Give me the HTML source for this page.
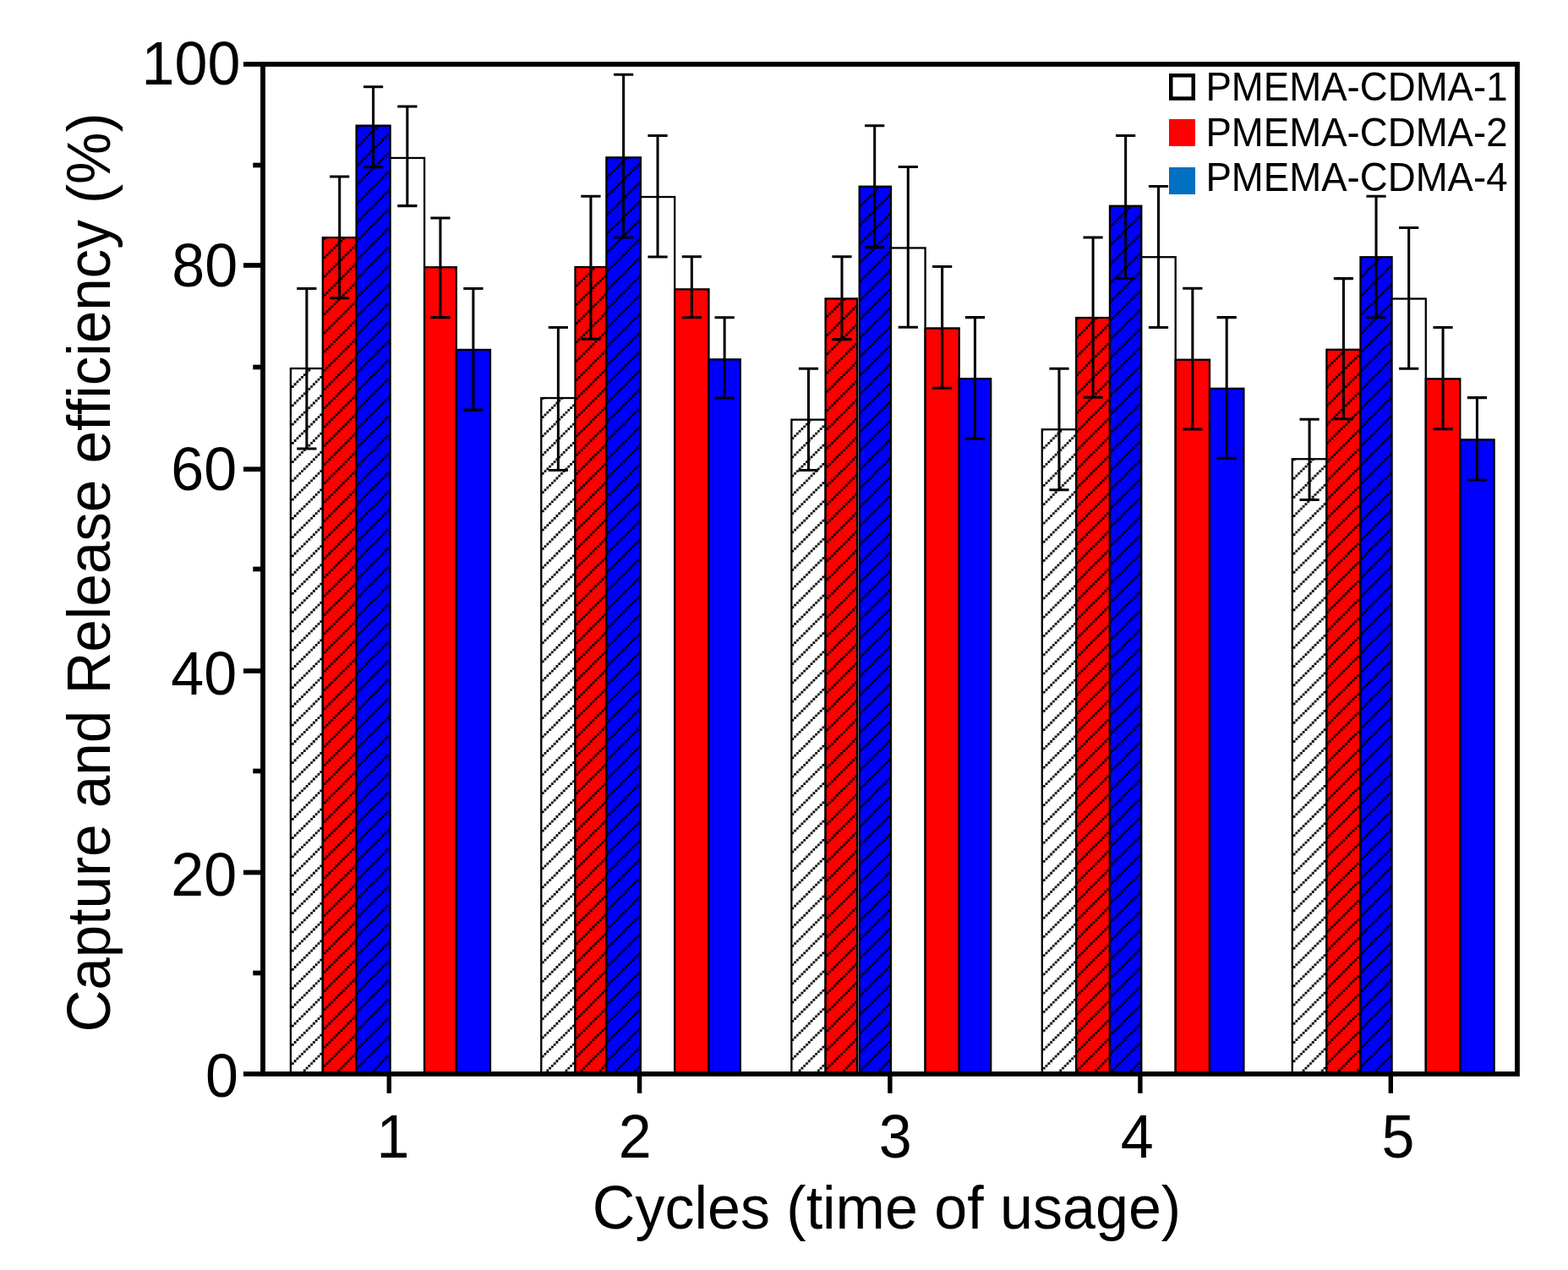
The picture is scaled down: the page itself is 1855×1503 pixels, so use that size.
<!DOCTYPE html><html><head><meta charset="utf-8"><title>Capture and Release efficiency</title>
<style>html,body{margin:0;padding:0;background:#fff;width:1855px;height:1503px;}svg{display:block;}text{font-family:"Liberation Sans",Arial,sans-serif;fill:#000;font-variant-ligatures:none;font-kerning:none;}</style></head><body>
<svg width="1855" height="1503" viewBox="0 0 1855 1503">
<defs>
<pattern id="h00" patternUnits="userSpaceOnUse" x="2.85" y="0" width="89" height="89"><rect width="89" height="89" fill="#ffffff"/><path d="M19.469,0.000h2.7812v2.7812h-2.7812zM41.719,0.000h2.7812v2.7812h-2.7812zM63.969,0.000h2.7812v2.7812h-2.7812zM86.219,0.000h2.7812v2.7812h-2.7812zM16.688,2.781h2.7812v2.7812h-2.7812zM38.938,2.781h2.7812v2.7812h-2.7812zM61.188,2.781h2.7812v2.7812h-2.7812zM83.438,2.781h2.7812v2.7812h-2.7812zM13.906,5.562h2.7812v2.7812h-2.7812zM36.156,5.562h2.7812v2.7812h-2.7812zM58.406,5.562h2.7812v2.7812h-2.7812zM80.656,5.562h2.7812v2.7812h-2.7812zM11.125,8.344h2.7812v2.7812h-2.7812zM33.375,8.344h2.7812v2.7812h-2.7812zM55.625,8.344h2.7812v2.7812h-2.7812zM77.875,8.344h2.7812v2.7812h-2.7812zM8.344,11.125h2.7812v2.7812h-2.7812zM30.594,11.125h2.7812v2.7812h-2.7812zM52.844,11.125h2.7812v2.7812h-2.7812zM75.094,11.125h2.7812v2.7812h-2.7812zM5.562,13.906h2.7812v2.7812h-2.7812zM27.812,13.906h2.7812v2.7812h-2.7812zM50.062,13.906h2.7812v2.7812h-2.7812zM72.312,13.906h2.7812v2.7812h-2.7812zM2.781,16.688h2.7812v2.7812h-2.7812zM25.031,16.688h2.7812v2.7812h-2.7812zM47.281,16.688h2.7812v2.7812h-2.7812zM69.531,16.688h2.7812v2.7812h-2.7812zM0.000,19.469h2.7812v2.7812h-2.7812zM22.250,19.469h2.7812v2.7812h-2.7812zM44.500,19.469h2.7812v2.7812h-2.7812zM66.750,19.469h2.7812v2.7812h-2.7812zM19.469,22.250h2.7812v2.7812h-2.7812zM41.719,22.250h2.7812v2.7812h-2.7812zM63.969,22.250h2.7812v2.7812h-2.7812zM86.219,22.250h2.7812v2.7812h-2.7812zM16.688,25.031h2.7812v2.7812h-2.7812zM38.938,25.031h2.7812v2.7812h-2.7812zM61.188,25.031h2.7812v2.7812h-2.7812zM83.438,25.031h2.7812v2.7812h-2.7812zM13.906,27.812h2.7812v2.7812h-2.7812zM36.156,27.812h2.7812v2.7812h-2.7812zM58.406,27.812h2.7812v2.7812h-2.7812zM80.656,27.812h2.7812v2.7812h-2.7812zM11.125,30.594h2.7812v2.7812h-2.7812zM33.375,30.594h2.7812v2.7812h-2.7812zM55.625,30.594h2.7812v2.7812h-2.7812zM77.875,30.594h2.7812v2.7812h-2.7812zM8.344,33.375h2.7812v2.7812h-2.7812zM30.594,33.375h2.7812v2.7812h-2.7812zM52.844,33.375h2.7812v2.7812h-2.7812zM75.094,33.375h2.7812v2.7812h-2.7812zM5.562,36.156h2.7812v2.7812h-2.7812zM27.812,36.156h2.7812v2.7812h-2.7812zM50.062,36.156h2.7812v2.7812h-2.7812zM72.312,36.156h2.7812v2.7812h-2.7812zM2.781,38.938h2.7812v2.7812h-2.7812zM25.031,38.938h2.7812v2.7812h-2.7812zM47.281,38.938h2.7812v2.7812h-2.7812zM69.531,38.938h2.7812v2.7812h-2.7812zM0.000,41.719h2.7812v2.7812h-2.7812zM22.250,41.719h2.7812v2.7812h-2.7812zM44.500,41.719h2.7812v2.7812h-2.7812zM66.750,41.719h2.7812v2.7812h-2.7812zM19.469,44.500h2.7812v2.7812h-2.7812zM41.719,44.500h2.7812v2.7812h-2.7812zM63.969,44.500h2.7812v2.7812h-2.7812zM86.219,44.500h2.7812v2.7812h-2.7812zM16.688,47.281h2.7812v2.7812h-2.7812zM38.938,47.281h2.7812v2.7812h-2.7812zM61.188,47.281h2.7812v2.7812h-2.7812zM83.438,47.281h2.7812v2.7812h-2.7812zM13.906,50.062h2.7812v2.7812h-2.7812zM36.156,50.062h2.7812v2.7812h-2.7812zM58.406,50.062h2.7812v2.7812h-2.7812zM80.656,50.062h2.7812v2.7812h-2.7812zM11.125,52.844h2.7812v2.7812h-2.7812zM33.375,52.844h2.7812v2.7812h-2.7812zM55.625,52.844h2.7812v2.7812h-2.7812zM77.875,52.844h2.7812v2.7812h-2.7812zM8.344,55.625h2.7812v2.7812h-2.7812zM30.594,55.625h2.7812v2.7812h-2.7812zM52.844,55.625h2.7812v2.7812h-2.7812zM75.094,55.625h2.7812v2.7812h-2.7812zM5.562,58.406h2.7812v2.7812h-2.7812zM27.812,58.406h2.7812v2.7812h-2.7812zM50.062,58.406h2.7812v2.7812h-2.7812zM72.312,58.406h2.7812v2.7812h-2.7812zM2.781,61.188h2.7812v2.7812h-2.7812zM25.031,61.188h2.7812v2.7812h-2.7812zM47.281,61.188h2.7812v2.7812h-2.7812zM69.531,61.188h2.7812v2.7812h-2.7812zM0.000,63.969h2.7812v2.7812h-2.7812zM22.250,63.969h2.7812v2.7812h-2.7812zM44.500,63.969h2.7812v2.7812h-2.7812zM66.750,63.969h2.7812v2.7812h-2.7812zM19.469,66.750h2.7812v2.7812h-2.7812zM41.719,66.750h2.7812v2.7812h-2.7812zM63.969,66.750h2.7812v2.7812h-2.7812zM86.219,66.750h2.7812v2.7812h-2.7812zM16.688,69.531h2.7812v2.7812h-2.7812zM38.938,69.531h2.7812v2.7812h-2.7812zM61.188,69.531h2.7812v2.7812h-2.7812zM83.438,69.531h2.7812v2.7812h-2.7812zM13.906,72.312h2.7812v2.7812h-2.7812zM36.156,72.312h2.7812v2.7812h-2.7812zM58.406,72.312h2.7812v2.7812h-2.7812zM80.656,72.312h2.7812v2.7812h-2.7812zM11.125,75.094h2.7812v2.7812h-2.7812zM33.375,75.094h2.7812v2.7812h-2.7812zM55.625,75.094h2.7812v2.7812h-2.7812zM77.875,75.094h2.7812v2.7812h-2.7812zM8.344,77.875h2.7812v2.7812h-2.7812zM30.594,77.875h2.7812v2.7812h-2.7812zM52.844,77.875h2.7812v2.7812h-2.7812zM75.094,77.875h2.7812v2.7812h-2.7812zM5.562,80.656h2.7812v2.7812h-2.7812zM27.812,80.656h2.7812v2.7812h-2.7812zM50.062,80.656h2.7812v2.7812h-2.7812zM72.312,80.656h2.7812v2.7812h-2.7812zM2.781,83.438h2.7812v2.7812h-2.7812zM25.031,83.438h2.7812v2.7812h-2.7812zM47.281,83.438h2.7812v2.7812h-2.7812zM69.531,83.438h2.7812v2.7812h-2.7812zM0.000,86.219h2.7812v2.7812h-2.7812zM22.250,86.219h2.7812v2.7812h-2.7812zM44.500,86.219h2.7812v2.7812h-2.7812zM66.750,86.219h2.7812v2.7812h-2.7812z" fill="#000"/></pattern>
<pattern id="h01" patternUnits="userSpaceOnUse" x="21.3" y="0" width="89" height="89"><rect width="89" height="89" fill="#ff0000"/><path d="M19.469,0.000h2.7812v2.7812h-2.7812zM41.719,0.000h2.7812v2.7812h-2.7812zM63.969,0.000h2.7812v2.7812h-2.7812zM86.219,0.000h2.7812v2.7812h-2.7812zM16.688,2.781h2.7812v2.7812h-2.7812zM38.938,2.781h2.7812v2.7812h-2.7812zM61.188,2.781h2.7812v2.7812h-2.7812zM83.438,2.781h2.7812v2.7812h-2.7812zM13.906,5.562h2.7812v2.7812h-2.7812zM36.156,5.562h2.7812v2.7812h-2.7812zM58.406,5.562h2.7812v2.7812h-2.7812zM80.656,5.562h2.7812v2.7812h-2.7812zM11.125,8.344h2.7812v2.7812h-2.7812zM33.375,8.344h2.7812v2.7812h-2.7812zM55.625,8.344h2.7812v2.7812h-2.7812zM77.875,8.344h2.7812v2.7812h-2.7812zM8.344,11.125h2.7812v2.7812h-2.7812zM30.594,11.125h2.7812v2.7812h-2.7812zM52.844,11.125h2.7812v2.7812h-2.7812zM75.094,11.125h2.7812v2.7812h-2.7812zM5.562,13.906h2.7812v2.7812h-2.7812zM27.812,13.906h2.7812v2.7812h-2.7812zM50.062,13.906h2.7812v2.7812h-2.7812zM72.312,13.906h2.7812v2.7812h-2.7812zM2.781,16.688h2.7812v2.7812h-2.7812zM25.031,16.688h2.7812v2.7812h-2.7812zM47.281,16.688h2.7812v2.7812h-2.7812zM69.531,16.688h2.7812v2.7812h-2.7812zM0.000,19.469h2.7812v2.7812h-2.7812zM22.250,19.469h2.7812v2.7812h-2.7812zM44.500,19.469h2.7812v2.7812h-2.7812zM66.750,19.469h2.7812v2.7812h-2.7812zM19.469,22.250h2.7812v2.7812h-2.7812zM41.719,22.250h2.7812v2.7812h-2.7812zM63.969,22.250h2.7812v2.7812h-2.7812zM86.219,22.250h2.7812v2.7812h-2.7812zM16.688,25.031h2.7812v2.7812h-2.7812zM38.938,25.031h2.7812v2.7812h-2.7812zM61.188,25.031h2.7812v2.7812h-2.7812zM83.438,25.031h2.7812v2.7812h-2.7812zM13.906,27.812h2.7812v2.7812h-2.7812zM36.156,27.812h2.7812v2.7812h-2.7812zM58.406,27.812h2.7812v2.7812h-2.7812zM80.656,27.812h2.7812v2.7812h-2.7812zM11.125,30.594h2.7812v2.7812h-2.7812zM33.375,30.594h2.7812v2.7812h-2.7812zM55.625,30.594h2.7812v2.7812h-2.7812zM77.875,30.594h2.7812v2.7812h-2.7812zM8.344,33.375h2.7812v2.7812h-2.7812zM30.594,33.375h2.7812v2.7812h-2.7812zM52.844,33.375h2.7812v2.7812h-2.7812zM75.094,33.375h2.7812v2.7812h-2.7812zM5.562,36.156h2.7812v2.7812h-2.7812zM27.812,36.156h2.7812v2.7812h-2.7812zM50.062,36.156h2.7812v2.7812h-2.7812zM72.312,36.156h2.7812v2.7812h-2.7812zM2.781,38.938h2.7812v2.7812h-2.7812zM25.031,38.938h2.7812v2.7812h-2.7812zM47.281,38.938h2.7812v2.7812h-2.7812zM69.531,38.938h2.7812v2.7812h-2.7812zM0.000,41.719h2.7812v2.7812h-2.7812zM22.250,41.719h2.7812v2.7812h-2.7812zM44.500,41.719h2.7812v2.7812h-2.7812zM66.750,41.719h2.7812v2.7812h-2.7812zM19.469,44.500h2.7812v2.7812h-2.7812zM41.719,44.500h2.7812v2.7812h-2.7812zM63.969,44.500h2.7812v2.7812h-2.7812zM86.219,44.500h2.7812v2.7812h-2.7812zM16.688,47.281h2.7812v2.7812h-2.7812zM38.938,47.281h2.7812v2.7812h-2.7812zM61.188,47.281h2.7812v2.7812h-2.7812zM83.438,47.281h2.7812v2.7812h-2.7812zM13.906,50.062h2.7812v2.7812h-2.7812zM36.156,50.062h2.7812v2.7812h-2.7812zM58.406,50.062h2.7812v2.7812h-2.7812zM80.656,50.062h2.7812v2.7812h-2.7812zM11.125,52.844h2.7812v2.7812h-2.7812zM33.375,52.844h2.7812v2.7812h-2.7812zM55.625,52.844h2.7812v2.7812h-2.7812zM77.875,52.844h2.7812v2.7812h-2.7812zM8.344,55.625h2.7812v2.7812h-2.7812zM30.594,55.625h2.7812v2.7812h-2.7812zM52.844,55.625h2.7812v2.7812h-2.7812zM75.094,55.625h2.7812v2.7812h-2.7812zM5.562,58.406h2.7812v2.7812h-2.7812zM27.812,58.406h2.7812v2.7812h-2.7812zM50.062,58.406h2.7812v2.7812h-2.7812zM72.312,58.406h2.7812v2.7812h-2.7812zM2.781,61.188h2.7812v2.7812h-2.7812zM25.031,61.188h2.7812v2.7812h-2.7812zM47.281,61.188h2.7812v2.7812h-2.7812zM69.531,61.188h2.7812v2.7812h-2.7812zM0.000,63.969h2.7812v2.7812h-2.7812zM22.250,63.969h2.7812v2.7812h-2.7812zM44.500,63.969h2.7812v2.7812h-2.7812zM66.750,63.969h2.7812v2.7812h-2.7812zM19.469,66.750h2.7812v2.7812h-2.7812zM41.719,66.750h2.7812v2.7812h-2.7812zM63.969,66.750h2.7812v2.7812h-2.7812zM86.219,66.750h2.7812v2.7812h-2.7812zM16.688,69.531h2.7812v2.7812h-2.7812zM38.938,69.531h2.7812v2.7812h-2.7812zM61.188,69.531h2.7812v2.7812h-2.7812zM83.438,69.531h2.7812v2.7812h-2.7812zM13.906,72.312h2.7812v2.7812h-2.7812zM36.156,72.312h2.7812v2.7812h-2.7812zM58.406,72.312h2.7812v2.7812h-2.7812zM80.656,72.312h2.7812v2.7812h-2.7812zM11.125,75.094h2.7812v2.7812h-2.7812zM33.375,75.094h2.7812v2.7812h-2.7812zM55.625,75.094h2.7812v2.7812h-2.7812zM77.875,75.094h2.7812v2.7812h-2.7812zM8.344,77.875h2.7812v2.7812h-2.7812zM30.594,77.875h2.7812v2.7812h-2.7812zM52.844,77.875h2.7812v2.7812h-2.7812zM75.094,77.875h2.7812v2.7812h-2.7812zM5.562,80.656h2.7812v2.7812h-2.7812zM27.812,80.656h2.7812v2.7812h-2.7812zM50.062,80.656h2.7812v2.7812h-2.7812zM72.312,80.656h2.7812v2.7812h-2.7812zM2.781,83.438h2.7812v2.7812h-2.7812zM25.031,83.438h2.7812v2.7812h-2.7812zM47.281,83.438h2.7812v2.7812h-2.7812zM69.531,83.438h2.7812v2.7812h-2.7812zM0.000,86.219h2.7812v2.7812h-2.7812zM22.250,86.219h2.7812v2.7812h-2.7812zM44.500,86.219h2.7812v2.7812h-2.7812zM66.750,86.219h2.7812v2.7812h-2.7812z" fill="#000"/></pattern>
<pattern id="h02" patternUnits="userSpaceOnUse" x="17.92" y="0" width="89" height="89"><rect width="89" height="89" fill="#0000ff"/><path d="M19.469,0.000h2.7812v2.7812h-2.7812zM41.719,0.000h2.7812v2.7812h-2.7812zM63.969,0.000h2.7812v2.7812h-2.7812zM86.219,0.000h2.7812v2.7812h-2.7812zM16.688,2.781h2.7812v2.7812h-2.7812zM38.938,2.781h2.7812v2.7812h-2.7812zM61.188,2.781h2.7812v2.7812h-2.7812zM83.438,2.781h2.7812v2.7812h-2.7812zM13.906,5.562h2.7812v2.7812h-2.7812zM36.156,5.562h2.7812v2.7812h-2.7812zM58.406,5.562h2.7812v2.7812h-2.7812zM80.656,5.562h2.7812v2.7812h-2.7812zM11.125,8.344h2.7812v2.7812h-2.7812zM33.375,8.344h2.7812v2.7812h-2.7812zM55.625,8.344h2.7812v2.7812h-2.7812zM77.875,8.344h2.7812v2.7812h-2.7812zM8.344,11.125h2.7812v2.7812h-2.7812zM30.594,11.125h2.7812v2.7812h-2.7812zM52.844,11.125h2.7812v2.7812h-2.7812zM75.094,11.125h2.7812v2.7812h-2.7812zM5.562,13.906h2.7812v2.7812h-2.7812zM27.812,13.906h2.7812v2.7812h-2.7812zM50.062,13.906h2.7812v2.7812h-2.7812zM72.312,13.906h2.7812v2.7812h-2.7812zM2.781,16.688h2.7812v2.7812h-2.7812zM25.031,16.688h2.7812v2.7812h-2.7812zM47.281,16.688h2.7812v2.7812h-2.7812zM69.531,16.688h2.7812v2.7812h-2.7812zM0.000,19.469h2.7812v2.7812h-2.7812zM22.250,19.469h2.7812v2.7812h-2.7812zM44.500,19.469h2.7812v2.7812h-2.7812zM66.750,19.469h2.7812v2.7812h-2.7812zM19.469,22.250h2.7812v2.7812h-2.7812zM41.719,22.250h2.7812v2.7812h-2.7812zM63.969,22.250h2.7812v2.7812h-2.7812zM86.219,22.250h2.7812v2.7812h-2.7812zM16.688,25.031h2.7812v2.7812h-2.7812zM38.938,25.031h2.7812v2.7812h-2.7812zM61.188,25.031h2.7812v2.7812h-2.7812zM83.438,25.031h2.7812v2.7812h-2.7812zM13.906,27.812h2.7812v2.7812h-2.7812zM36.156,27.812h2.7812v2.7812h-2.7812zM58.406,27.812h2.7812v2.7812h-2.7812zM80.656,27.812h2.7812v2.7812h-2.7812zM11.125,30.594h2.7812v2.7812h-2.7812zM33.375,30.594h2.7812v2.7812h-2.7812zM55.625,30.594h2.7812v2.7812h-2.7812zM77.875,30.594h2.7812v2.7812h-2.7812zM8.344,33.375h2.7812v2.7812h-2.7812zM30.594,33.375h2.7812v2.7812h-2.7812zM52.844,33.375h2.7812v2.7812h-2.7812zM75.094,33.375h2.7812v2.7812h-2.7812zM5.562,36.156h2.7812v2.7812h-2.7812zM27.812,36.156h2.7812v2.7812h-2.7812zM50.062,36.156h2.7812v2.7812h-2.7812zM72.312,36.156h2.7812v2.7812h-2.7812zM2.781,38.938h2.7812v2.7812h-2.7812zM25.031,38.938h2.7812v2.7812h-2.7812zM47.281,38.938h2.7812v2.7812h-2.7812zM69.531,38.938h2.7812v2.7812h-2.7812zM0.000,41.719h2.7812v2.7812h-2.7812zM22.250,41.719h2.7812v2.7812h-2.7812zM44.500,41.719h2.7812v2.7812h-2.7812zM66.750,41.719h2.7812v2.7812h-2.7812zM19.469,44.500h2.7812v2.7812h-2.7812zM41.719,44.500h2.7812v2.7812h-2.7812zM63.969,44.500h2.7812v2.7812h-2.7812zM86.219,44.500h2.7812v2.7812h-2.7812zM16.688,47.281h2.7812v2.7812h-2.7812zM38.938,47.281h2.7812v2.7812h-2.7812zM61.188,47.281h2.7812v2.7812h-2.7812zM83.438,47.281h2.7812v2.7812h-2.7812zM13.906,50.062h2.7812v2.7812h-2.7812zM36.156,50.062h2.7812v2.7812h-2.7812zM58.406,50.062h2.7812v2.7812h-2.7812zM80.656,50.062h2.7812v2.7812h-2.7812zM11.125,52.844h2.7812v2.7812h-2.7812zM33.375,52.844h2.7812v2.7812h-2.7812zM55.625,52.844h2.7812v2.7812h-2.7812zM77.875,52.844h2.7812v2.7812h-2.7812zM8.344,55.625h2.7812v2.7812h-2.7812zM30.594,55.625h2.7812v2.7812h-2.7812zM52.844,55.625h2.7812v2.7812h-2.7812zM75.094,55.625h2.7812v2.7812h-2.7812zM5.562,58.406h2.7812v2.7812h-2.7812zM27.812,58.406h2.7812v2.7812h-2.7812zM50.062,58.406h2.7812v2.7812h-2.7812zM72.312,58.406h2.7812v2.7812h-2.7812zM2.781,61.188h2.7812v2.7812h-2.7812zM25.031,61.188h2.7812v2.7812h-2.7812zM47.281,61.188h2.7812v2.7812h-2.7812zM69.531,61.188h2.7812v2.7812h-2.7812zM0.000,63.969h2.7812v2.7812h-2.7812zM22.250,63.969h2.7812v2.7812h-2.7812zM44.500,63.969h2.7812v2.7812h-2.7812zM66.750,63.969h2.7812v2.7812h-2.7812zM19.469,66.750h2.7812v2.7812h-2.7812zM41.719,66.750h2.7812v2.7812h-2.7812zM63.969,66.750h2.7812v2.7812h-2.7812zM86.219,66.750h2.7812v2.7812h-2.7812zM16.688,69.531h2.7812v2.7812h-2.7812zM38.938,69.531h2.7812v2.7812h-2.7812zM61.188,69.531h2.7812v2.7812h-2.7812zM83.438,69.531h2.7812v2.7812h-2.7812zM13.906,72.312h2.7812v2.7812h-2.7812zM36.156,72.312h2.7812v2.7812h-2.7812zM58.406,72.312h2.7812v2.7812h-2.7812zM80.656,72.312h2.7812v2.7812h-2.7812zM11.125,75.094h2.7812v2.7812h-2.7812zM33.375,75.094h2.7812v2.7812h-2.7812zM55.625,75.094h2.7812v2.7812h-2.7812zM77.875,75.094h2.7812v2.7812h-2.7812zM8.344,77.875h2.7812v2.7812h-2.7812zM30.594,77.875h2.7812v2.7812h-2.7812zM52.844,77.875h2.7812v2.7812h-2.7812zM75.094,77.875h2.7812v2.7812h-2.7812zM5.562,80.656h2.7812v2.7812h-2.7812zM27.812,80.656h2.7812v2.7812h-2.7812zM50.062,80.656h2.7812v2.7812h-2.7812zM72.312,80.656h2.7812v2.7812h-2.7812zM2.781,83.438h2.7812v2.7812h-2.7812zM25.031,83.438h2.7812v2.7812h-2.7812zM47.281,83.438h2.7812v2.7812h-2.7812zM69.531,83.438h2.7812v2.7812h-2.7812zM0.000,86.219h2.7812v2.7812h-2.7812zM22.250,86.219h2.7812v2.7812h-2.7812zM44.500,86.219h2.7812v2.7812h-2.7812zM66.750,86.219h2.7812v2.7812h-2.7812z" fill="#000"/></pattern>
<pattern id="h10" patternUnits="userSpaceOnUse" x="1.2" y="0" width="89" height="89"><rect width="89" height="89" fill="#ffffff"/><path d="M19.469,0.000h2.7812v2.7812h-2.7812zM41.719,0.000h2.7812v2.7812h-2.7812zM63.969,0.000h2.7812v2.7812h-2.7812zM86.219,0.000h2.7812v2.7812h-2.7812zM16.688,2.781h2.7812v2.7812h-2.7812zM38.938,2.781h2.7812v2.7812h-2.7812zM61.188,2.781h2.7812v2.7812h-2.7812zM83.438,2.781h2.7812v2.7812h-2.7812zM13.906,5.562h2.7812v2.7812h-2.7812zM36.156,5.562h2.7812v2.7812h-2.7812zM58.406,5.562h2.7812v2.7812h-2.7812zM80.656,5.562h2.7812v2.7812h-2.7812zM11.125,8.344h2.7812v2.7812h-2.7812zM33.375,8.344h2.7812v2.7812h-2.7812zM55.625,8.344h2.7812v2.7812h-2.7812zM77.875,8.344h2.7812v2.7812h-2.7812zM8.344,11.125h2.7812v2.7812h-2.7812zM30.594,11.125h2.7812v2.7812h-2.7812zM52.844,11.125h2.7812v2.7812h-2.7812zM75.094,11.125h2.7812v2.7812h-2.7812zM5.562,13.906h2.7812v2.7812h-2.7812zM27.812,13.906h2.7812v2.7812h-2.7812zM50.062,13.906h2.7812v2.7812h-2.7812zM72.312,13.906h2.7812v2.7812h-2.7812zM2.781,16.688h2.7812v2.7812h-2.7812zM25.031,16.688h2.7812v2.7812h-2.7812zM47.281,16.688h2.7812v2.7812h-2.7812zM69.531,16.688h2.7812v2.7812h-2.7812zM0.000,19.469h2.7812v2.7812h-2.7812zM22.250,19.469h2.7812v2.7812h-2.7812zM44.500,19.469h2.7812v2.7812h-2.7812zM66.750,19.469h2.7812v2.7812h-2.7812zM19.469,22.250h2.7812v2.7812h-2.7812zM41.719,22.250h2.7812v2.7812h-2.7812zM63.969,22.250h2.7812v2.7812h-2.7812zM86.219,22.250h2.7812v2.7812h-2.7812zM16.688,25.031h2.7812v2.7812h-2.7812zM38.938,25.031h2.7812v2.7812h-2.7812zM61.188,25.031h2.7812v2.7812h-2.7812zM83.438,25.031h2.7812v2.7812h-2.7812zM13.906,27.812h2.7812v2.7812h-2.7812zM36.156,27.812h2.7812v2.7812h-2.7812zM58.406,27.812h2.7812v2.7812h-2.7812zM80.656,27.812h2.7812v2.7812h-2.7812zM11.125,30.594h2.7812v2.7812h-2.7812zM33.375,30.594h2.7812v2.7812h-2.7812zM55.625,30.594h2.7812v2.7812h-2.7812zM77.875,30.594h2.7812v2.7812h-2.7812zM8.344,33.375h2.7812v2.7812h-2.7812zM30.594,33.375h2.7812v2.7812h-2.7812zM52.844,33.375h2.7812v2.7812h-2.7812zM75.094,33.375h2.7812v2.7812h-2.7812zM5.562,36.156h2.7812v2.7812h-2.7812zM27.812,36.156h2.7812v2.7812h-2.7812zM50.062,36.156h2.7812v2.7812h-2.7812zM72.312,36.156h2.7812v2.7812h-2.7812zM2.781,38.938h2.7812v2.7812h-2.7812zM25.031,38.938h2.7812v2.7812h-2.7812zM47.281,38.938h2.7812v2.7812h-2.7812zM69.531,38.938h2.7812v2.7812h-2.7812zM0.000,41.719h2.7812v2.7812h-2.7812zM22.250,41.719h2.7812v2.7812h-2.7812zM44.500,41.719h2.7812v2.7812h-2.7812zM66.750,41.719h2.7812v2.7812h-2.7812zM19.469,44.500h2.7812v2.7812h-2.7812zM41.719,44.500h2.7812v2.7812h-2.7812zM63.969,44.500h2.7812v2.7812h-2.7812zM86.219,44.500h2.7812v2.7812h-2.7812zM16.688,47.281h2.7812v2.7812h-2.7812zM38.938,47.281h2.7812v2.7812h-2.7812zM61.188,47.281h2.7812v2.7812h-2.7812zM83.438,47.281h2.7812v2.7812h-2.7812zM13.906,50.062h2.7812v2.7812h-2.7812zM36.156,50.062h2.7812v2.7812h-2.7812zM58.406,50.062h2.7812v2.7812h-2.7812zM80.656,50.062h2.7812v2.7812h-2.7812zM11.125,52.844h2.7812v2.7812h-2.7812zM33.375,52.844h2.7812v2.7812h-2.7812zM55.625,52.844h2.7812v2.7812h-2.7812zM77.875,52.844h2.7812v2.7812h-2.7812zM8.344,55.625h2.7812v2.7812h-2.7812zM30.594,55.625h2.7812v2.7812h-2.7812zM52.844,55.625h2.7812v2.7812h-2.7812zM75.094,55.625h2.7812v2.7812h-2.7812zM5.562,58.406h2.7812v2.7812h-2.7812zM27.812,58.406h2.7812v2.7812h-2.7812zM50.062,58.406h2.7812v2.7812h-2.7812zM72.312,58.406h2.7812v2.7812h-2.7812zM2.781,61.188h2.7812v2.7812h-2.7812zM25.031,61.188h2.7812v2.7812h-2.7812zM47.281,61.188h2.7812v2.7812h-2.7812zM69.531,61.188h2.7812v2.7812h-2.7812zM0.000,63.969h2.7812v2.7812h-2.7812zM22.250,63.969h2.7812v2.7812h-2.7812zM44.500,63.969h2.7812v2.7812h-2.7812zM66.750,63.969h2.7812v2.7812h-2.7812zM19.469,66.750h2.7812v2.7812h-2.7812zM41.719,66.750h2.7812v2.7812h-2.7812zM63.969,66.750h2.7812v2.7812h-2.7812zM86.219,66.750h2.7812v2.7812h-2.7812zM16.688,69.531h2.7812v2.7812h-2.7812zM38.938,69.531h2.7812v2.7812h-2.7812zM61.188,69.531h2.7812v2.7812h-2.7812zM83.438,69.531h2.7812v2.7812h-2.7812zM13.906,72.312h2.7812v2.7812h-2.7812zM36.156,72.312h2.7812v2.7812h-2.7812zM58.406,72.312h2.7812v2.7812h-2.7812zM80.656,72.312h2.7812v2.7812h-2.7812zM11.125,75.094h2.7812v2.7812h-2.7812zM33.375,75.094h2.7812v2.7812h-2.7812zM55.625,75.094h2.7812v2.7812h-2.7812zM77.875,75.094h2.7812v2.7812h-2.7812zM8.344,77.875h2.7812v2.7812h-2.7812zM30.594,77.875h2.7812v2.7812h-2.7812zM52.844,77.875h2.7812v2.7812h-2.7812zM75.094,77.875h2.7812v2.7812h-2.7812zM5.562,80.656h2.7812v2.7812h-2.7812zM27.812,80.656h2.7812v2.7812h-2.7812zM50.062,80.656h2.7812v2.7812h-2.7812zM72.312,80.656h2.7812v2.7812h-2.7812zM2.781,83.438h2.7812v2.7812h-2.7812zM25.031,83.438h2.7812v2.7812h-2.7812zM47.281,83.438h2.7812v2.7812h-2.7812zM69.531,83.438h2.7812v2.7812h-2.7812zM0.000,86.219h2.7812v2.7812h-2.7812zM22.250,86.219h2.7812v2.7812h-2.7812zM44.500,86.219h2.7812v2.7812h-2.7812zM66.750,86.219h2.7812v2.7812h-2.7812z" fill="#000"/></pattern>
<pattern id="h11" patternUnits="userSpaceOnUse" x="19.17" y="0" width="89" height="89"><rect width="89" height="89" fill="#ff0000"/><path d="M19.469,0.000h2.7812v2.7812h-2.7812zM41.719,0.000h2.7812v2.7812h-2.7812zM63.969,0.000h2.7812v2.7812h-2.7812zM86.219,0.000h2.7812v2.7812h-2.7812zM16.688,2.781h2.7812v2.7812h-2.7812zM38.938,2.781h2.7812v2.7812h-2.7812zM61.188,2.781h2.7812v2.7812h-2.7812zM83.438,2.781h2.7812v2.7812h-2.7812zM13.906,5.562h2.7812v2.7812h-2.7812zM36.156,5.562h2.7812v2.7812h-2.7812zM58.406,5.562h2.7812v2.7812h-2.7812zM80.656,5.562h2.7812v2.7812h-2.7812zM11.125,8.344h2.7812v2.7812h-2.7812zM33.375,8.344h2.7812v2.7812h-2.7812zM55.625,8.344h2.7812v2.7812h-2.7812zM77.875,8.344h2.7812v2.7812h-2.7812zM8.344,11.125h2.7812v2.7812h-2.7812zM30.594,11.125h2.7812v2.7812h-2.7812zM52.844,11.125h2.7812v2.7812h-2.7812zM75.094,11.125h2.7812v2.7812h-2.7812zM5.562,13.906h2.7812v2.7812h-2.7812zM27.812,13.906h2.7812v2.7812h-2.7812zM50.062,13.906h2.7812v2.7812h-2.7812zM72.312,13.906h2.7812v2.7812h-2.7812zM2.781,16.688h2.7812v2.7812h-2.7812zM25.031,16.688h2.7812v2.7812h-2.7812zM47.281,16.688h2.7812v2.7812h-2.7812zM69.531,16.688h2.7812v2.7812h-2.7812zM0.000,19.469h2.7812v2.7812h-2.7812zM22.250,19.469h2.7812v2.7812h-2.7812zM44.500,19.469h2.7812v2.7812h-2.7812zM66.750,19.469h2.7812v2.7812h-2.7812zM19.469,22.250h2.7812v2.7812h-2.7812zM41.719,22.250h2.7812v2.7812h-2.7812zM63.969,22.250h2.7812v2.7812h-2.7812zM86.219,22.250h2.7812v2.7812h-2.7812zM16.688,25.031h2.7812v2.7812h-2.7812zM38.938,25.031h2.7812v2.7812h-2.7812zM61.188,25.031h2.7812v2.7812h-2.7812zM83.438,25.031h2.7812v2.7812h-2.7812zM13.906,27.812h2.7812v2.7812h-2.7812zM36.156,27.812h2.7812v2.7812h-2.7812zM58.406,27.812h2.7812v2.7812h-2.7812zM80.656,27.812h2.7812v2.7812h-2.7812zM11.125,30.594h2.7812v2.7812h-2.7812zM33.375,30.594h2.7812v2.7812h-2.7812zM55.625,30.594h2.7812v2.7812h-2.7812zM77.875,30.594h2.7812v2.7812h-2.7812zM8.344,33.375h2.7812v2.7812h-2.7812zM30.594,33.375h2.7812v2.7812h-2.7812zM52.844,33.375h2.7812v2.7812h-2.7812zM75.094,33.375h2.7812v2.7812h-2.7812zM5.562,36.156h2.7812v2.7812h-2.7812zM27.812,36.156h2.7812v2.7812h-2.7812zM50.062,36.156h2.7812v2.7812h-2.7812zM72.312,36.156h2.7812v2.7812h-2.7812zM2.781,38.938h2.7812v2.7812h-2.7812zM25.031,38.938h2.7812v2.7812h-2.7812zM47.281,38.938h2.7812v2.7812h-2.7812zM69.531,38.938h2.7812v2.7812h-2.7812zM0.000,41.719h2.7812v2.7812h-2.7812zM22.250,41.719h2.7812v2.7812h-2.7812zM44.500,41.719h2.7812v2.7812h-2.7812zM66.750,41.719h2.7812v2.7812h-2.7812zM19.469,44.500h2.7812v2.7812h-2.7812zM41.719,44.500h2.7812v2.7812h-2.7812zM63.969,44.500h2.7812v2.7812h-2.7812zM86.219,44.500h2.7812v2.7812h-2.7812zM16.688,47.281h2.7812v2.7812h-2.7812zM38.938,47.281h2.7812v2.7812h-2.7812zM61.188,47.281h2.7812v2.7812h-2.7812zM83.438,47.281h2.7812v2.7812h-2.7812zM13.906,50.062h2.7812v2.7812h-2.7812zM36.156,50.062h2.7812v2.7812h-2.7812zM58.406,50.062h2.7812v2.7812h-2.7812zM80.656,50.062h2.7812v2.7812h-2.7812zM11.125,52.844h2.7812v2.7812h-2.7812zM33.375,52.844h2.7812v2.7812h-2.7812zM55.625,52.844h2.7812v2.7812h-2.7812zM77.875,52.844h2.7812v2.7812h-2.7812zM8.344,55.625h2.7812v2.7812h-2.7812zM30.594,55.625h2.7812v2.7812h-2.7812zM52.844,55.625h2.7812v2.7812h-2.7812zM75.094,55.625h2.7812v2.7812h-2.7812zM5.562,58.406h2.7812v2.7812h-2.7812zM27.812,58.406h2.7812v2.7812h-2.7812zM50.062,58.406h2.7812v2.7812h-2.7812zM72.312,58.406h2.7812v2.7812h-2.7812zM2.781,61.188h2.7812v2.7812h-2.7812zM25.031,61.188h2.7812v2.7812h-2.7812zM47.281,61.188h2.7812v2.7812h-2.7812zM69.531,61.188h2.7812v2.7812h-2.7812zM0.000,63.969h2.7812v2.7812h-2.7812zM22.250,63.969h2.7812v2.7812h-2.7812zM44.500,63.969h2.7812v2.7812h-2.7812zM66.750,63.969h2.7812v2.7812h-2.7812zM19.469,66.750h2.7812v2.7812h-2.7812zM41.719,66.750h2.7812v2.7812h-2.7812zM63.969,66.750h2.7812v2.7812h-2.7812zM86.219,66.750h2.7812v2.7812h-2.7812zM16.688,69.531h2.7812v2.7812h-2.7812zM38.938,69.531h2.7812v2.7812h-2.7812zM61.188,69.531h2.7812v2.7812h-2.7812zM83.438,69.531h2.7812v2.7812h-2.7812zM13.906,72.312h2.7812v2.7812h-2.7812zM36.156,72.312h2.7812v2.7812h-2.7812zM58.406,72.312h2.7812v2.7812h-2.7812zM80.656,72.312h2.7812v2.7812h-2.7812zM11.125,75.094h2.7812v2.7812h-2.7812zM33.375,75.094h2.7812v2.7812h-2.7812zM55.625,75.094h2.7812v2.7812h-2.7812zM77.875,75.094h2.7812v2.7812h-2.7812zM8.344,77.875h2.7812v2.7812h-2.7812zM30.594,77.875h2.7812v2.7812h-2.7812zM52.844,77.875h2.7812v2.7812h-2.7812zM75.094,77.875h2.7812v2.7812h-2.7812zM5.562,80.656h2.7812v2.7812h-2.7812zM27.812,80.656h2.7812v2.7812h-2.7812zM50.062,80.656h2.7812v2.7812h-2.7812zM72.312,80.656h2.7812v2.7812h-2.7812zM2.781,83.438h2.7812v2.7812h-2.7812zM25.031,83.438h2.7812v2.7812h-2.7812zM47.281,83.438h2.7812v2.7812h-2.7812zM69.531,83.438h2.7812v2.7812h-2.7812zM0.000,86.219h2.7812v2.7812h-2.7812zM22.250,86.219h2.7812v2.7812h-2.7812zM44.500,86.219h2.7812v2.7812h-2.7812zM66.750,86.219h2.7812v2.7812h-2.7812z" fill="#000"/></pattern>
<pattern id="h12" patternUnits="userSpaceOnUse" x="15.98" y="0" width="89" height="89"><rect width="89" height="89" fill="#0000ff"/><path d="M19.469,0.000h2.7812v2.7812h-2.7812zM41.719,0.000h2.7812v2.7812h-2.7812zM63.969,0.000h2.7812v2.7812h-2.7812zM86.219,0.000h2.7812v2.7812h-2.7812zM16.688,2.781h2.7812v2.7812h-2.7812zM38.938,2.781h2.7812v2.7812h-2.7812zM61.188,2.781h2.7812v2.7812h-2.7812zM83.438,2.781h2.7812v2.7812h-2.7812zM13.906,5.562h2.7812v2.7812h-2.7812zM36.156,5.562h2.7812v2.7812h-2.7812zM58.406,5.562h2.7812v2.7812h-2.7812zM80.656,5.562h2.7812v2.7812h-2.7812zM11.125,8.344h2.7812v2.7812h-2.7812zM33.375,8.344h2.7812v2.7812h-2.7812zM55.625,8.344h2.7812v2.7812h-2.7812zM77.875,8.344h2.7812v2.7812h-2.7812zM8.344,11.125h2.7812v2.7812h-2.7812zM30.594,11.125h2.7812v2.7812h-2.7812zM52.844,11.125h2.7812v2.7812h-2.7812zM75.094,11.125h2.7812v2.7812h-2.7812zM5.562,13.906h2.7812v2.7812h-2.7812zM27.812,13.906h2.7812v2.7812h-2.7812zM50.062,13.906h2.7812v2.7812h-2.7812zM72.312,13.906h2.7812v2.7812h-2.7812zM2.781,16.688h2.7812v2.7812h-2.7812zM25.031,16.688h2.7812v2.7812h-2.7812zM47.281,16.688h2.7812v2.7812h-2.7812zM69.531,16.688h2.7812v2.7812h-2.7812zM0.000,19.469h2.7812v2.7812h-2.7812zM22.250,19.469h2.7812v2.7812h-2.7812zM44.500,19.469h2.7812v2.7812h-2.7812zM66.750,19.469h2.7812v2.7812h-2.7812zM19.469,22.250h2.7812v2.7812h-2.7812zM41.719,22.250h2.7812v2.7812h-2.7812zM63.969,22.250h2.7812v2.7812h-2.7812zM86.219,22.250h2.7812v2.7812h-2.7812zM16.688,25.031h2.7812v2.7812h-2.7812zM38.938,25.031h2.7812v2.7812h-2.7812zM61.188,25.031h2.7812v2.7812h-2.7812zM83.438,25.031h2.7812v2.7812h-2.7812zM13.906,27.812h2.7812v2.7812h-2.7812zM36.156,27.812h2.7812v2.7812h-2.7812zM58.406,27.812h2.7812v2.7812h-2.7812zM80.656,27.812h2.7812v2.7812h-2.7812zM11.125,30.594h2.7812v2.7812h-2.7812zM33.375,30.594h2.7812v2.7812h-2.7812zM55.625,30.594h2.7812v2.7812h-2.7812zM77.875,30.594h2.7812v2.7812h-2.7812zM8.344,33.375h2.7812v2.7812h-2.7812zM30.594,33.375h2.7812v2.7812h-2.7812zM52.844,33.375h2.7812v2.7812h-2.7812zM75.094,33.375h2.7812v2.7812h-2.7812zM5.562,36.156h2.7812v2.7812h-2.7812zM27.812,36.156h2.7812v2.7812h-2.7812zM50.062,36.156h2.7812v2.7812h-2.7812zM72.312,36.156h2.7812v2.7812h-2.7812zM2.781,38.938h2.7812v2.7812h-2.7812zM25.031,38.938h2.7812v2.7812h-2.7812zM47.281,38.938h2.7812v2.7812h-2.7812zM69.531,38.938h2.7812v2.7812h-2.7812zM0.000,41.719h2.7812v2.7812h-2.7812zM22.250,41.719h2.7812v2.7812h-2.7812zM44.500,41.719h2.7812v2.7812h-2.7812zM66.750,41.719h2.7812v2.7812h-2.7812zM19.469,44.500h2.7812v2.7812h-2.7812zM41.719,44.500h2.7812v2.7812h-2.7812zM63.969,44.500h2.7812v2.7812h-2.7812zM86.219,44.500h2.7812v2.7812h-2.7812zM16.688,47.281h2.7812v2.7812h-2.7812zM38.938,47.281h2.7812v2.7812h-2.7812zM61.188,47.281h2.7812v2.7812h-2.7812zM83.438,47.281h2.7812v2.7812h-2.7812zM13.906,50.062h2.7812v2.7812h-2.7812zM36.156,50.062h2.7812v2.7812h-2.7812zM58.406,50.062h2.7812v2.7812h-2.7812zM80.656,50.062h2.7812v2.7812h-2.7812zM11.125,52.844h2.7812v2.7812h-2.7812zM33.375,52.844h2.7812v2.7812h-2.7812zM55.625,52.844h2.7812v2.7812h-2.7812zM77.875,52.844h2.7812v2.7812h-2.7812zM8.344,55.625h2.7812v2.7812h-2.7812zM30.594,55.625h2.7812v2.7812h-2.7812zM52.844,55.625h2.7812v2.7812h-2.7812zM75.094,55.625h2.7812v2.7812h-2.7812zM5.562,58.406h2.7812v2.7812h-2.7812zM27.812,58.406h2.7812v2.7812h-2.7812zM50.062,58.406h2.7812v2.7812h-2.7812zM72.312,58.406h2.7812v2.7812h-2.7812zM2.781,61.188h2.7812v2.7812h-2.7812zM25.031,61.188h2.7812v2.7812h-2.7812zM47.281,61.188h2.7812v2.7812h-2.7812zM69.531,61.188h2.7812v2.7812h-2.7812zM0.000,63.969h2.7812v2.7812h-2.7812zM22.250,63.969h2.7812v2.7812h-2.7812zM44.500,63.969h2.7812v2.7812h-2.7812zM66.750,63.969h2.7812v2.7812h-2.7812zM19.469,66.750h2.7812v2.7812h-2.7812zM41.719,66.750h2.7812v2.7812h-2.7812zM63.969,66.750h2.7812v2.7812h-2.7812zM86.219,66.750h2.7812v2.7812h-2.7812zM16.688,69.531h2.7812v2.7812h-2.7812zM38.938,69.531h2.7812v2.7812h-2.7812zM61.188,69.531h2.7812v2.7812h-2.7812zM83.438,69.531h2.7812v2.7812h-2.7812zM13.906,72.312h2.7812v2.7812h-2.7812zM36.156,72.312h2.7812v2.7812h-2.7812zM58.406,72.312h2.7812v2.7812h-2.7812zM80.656,72.312h2.7812v2.7812h-2.7812zM11.125,75.094h2.7812v2.7812h-2.7812zM33.375,75.094h2.7812v2.7812h-2.7812zM55.625,75.094h2.7812v2.7812h-2.7812zM77.875,75.094h2.7812v2.7812h-2.7812zM8.344,77.875h2.7812v2.7812h-2.7812zM30.594,77.875h2.7812v2.7812h-2.7812zM52.844,77.875h2.7812v2.7812h-2.7812zM75.094,77.875h2.7812v2.7812h-2.7812zM5.562,80.656h2.7812v2.7812h-2.7812zM27.812,80.656h2.7812v2.7812h-2.7812zM50.062,80.656h2.7812v2.7812h-2.7812zM72.312,80.656h2.7812v2.7812h-2.7812zM2.781,83.438h2.7812v2.7812h-2.7812zM25.031,83.438h2.7812v2.7812h-2.7812zM47.281,83.438h2.7812v2.7812h-2.7812zM69.531,83.438h2.7812v2.7812h-2.7812zM0.000,86.219h2.7812v2.7812h-2.7812zM22.250,86.219h2.7812v2.7812h-2.7812zM44.500,86.219h2.7812v2.7812h-2.7812zM66.750,86.219h2.7812v2.7812h-2.7812z" fill="#000"/></pattern>
<pattern id="h20" patternUnits="userSpaceOnUse" x="10.29" y="0" width="89" height="89"><rect width="89" height="89" fill="#ffffff"/><path d="M19.469,0.000h2.7812v2.7812h-2.7812zM41.719,0.000h2.7812v2.7812h-2.7812zM63.969,0.000h2.7812v2.7812h-2.7812zM86.219,0.000h2.7812v2.7812h-2.7812zM16.688,2.781h2.7812v2.7812h-2.7812zM38.938,2.781h2.7812v2.7812h-2.7812zM61.188,2.781h2.7812v2.7812h-2.7812zM83.438,2.781h2.7812v2.7812h-2.7812zM13.906,5.562h2.7812v2.7812h-2.7812zM36.156,5.562h2.7812v2.7812h-2.7812zM58.406,5.562h2.7812v2.7812h-2.7812zM80.656,5.562h2.7812v2.7812h-2.7812zM11.125,8.344h2.7812v2.7812h-2.7812zM33.375,8.344h2.7812v2.7812h-2.7812zM55.625,8.344h2.7812v2.7812h-2.7812zM77.875,8.344h2.7812v2.7812h-2.7812zM8.344,11.125h2.7812v2.7812h-2.7812zM30.594,11.125h2.7812v2.7812h-2.7812zM52.844,11.125h2.7812v2.7812h-2.7812zM75.094,11.125h2.7812v2.7812h-2.7812zM5.562,13.906h2.7812v2.7812h-2.7812zM27.812,13.906h2.7812v2.7812h-2.7812zM50.062,13.906h2.7812v2.7812h-2.7812zM72.312,13.906h2.7812v2.7812h-2.7812zM2.781,16.688h2.7812v2.7812h-2.7812zM25.031,16.688h2.7812v2.7812h-2.7812zM47.281,16.688h2.7812v2.7812h-2.7812zM69.531,16.688h2.7812v2.7812h-2.7812zM0.000,19.469h2.7812v2.7812h-2.7812zM22.250,19.469h2.7812v2.7812h-2.7812zM44.500,19.469h2.7812v2.7812h-2.7812zM66.750,19.469h2.7812v2.7812h-2.7812zM19.469,22.250h2.7812v2.7812h-2.7812zM41.719,22.250h2.7812v2.7812h-2.7812zM63.969,22.250h2.7812v2.7812h-2.7812zM86.219,22.250h2.7812v2.7812h-2.7812zM16.688,25.031h2.7812v2.7812h-2.7812zM38.938,25.031h2.7812v2.7812h-2.7812zM61.188,25.031h2.7812v2.7812h-2.7812zM83.438,25.031h2.7812v2.7812h-2.7812zM13.906,27.812h2.7812v2.7812h-2.7812zM36.156,27.812h2.7812v2.7812h-2.7812zM58.406,27.812h2.7812v2.7812h-2.7812zM80.656,27.812h2.7812v2.7812h-2.7812zM11.125,30.594h2.7812v2.7812h-2.7812zM33.375,30.594h2.7812v2.7812h-2.7812zM55.625,30.594h2.7812v2.7812h-2.7812zM77.875,30.594h2.7812v2.7812h-2.7812zM8.344,33.375h2.7812v2.7812h-2.7812zM30.594,33.375h2.7812v2.7812h-2.7812zM52.844,33.375h2.7812v2.7812h-2.7812zM75.094,33.375h2.7812v2.7812h-2.7812zM5.562,36.156h2.7812v2.7812h-2.7812zM27.812,36.156h2.7812v2.7812h-2.7812zM50.062,36.156h2.7812v2.7812h-2.7812zM72.312,36.156h2.7812v2.7812h-2.7812zM2.781,38.938h2.7812v2.7812h-2.7812zM25.031,38.938h2.7812v2.7812h-2.7812zM47.281,38.938h2.7812v2.7812h-2.7812zM69.531,38.938h2.7812v2.7812h-2.7812zM0.000,41.719h2.7812v2.7812h-2.7812zM22.250,41.719h2.7812v2.7812h-2.7812zM44.500,41.719h2.7812v2.7812h-2.7812zM66.750,41.719h2.7812v2.7812h-2.7812zM19.469,44.500h2.7812v2.7812h-2.7812zM41.719,44.500h2.7812v2.7812h-2.7812zM63.969,44.500h2.7812v2.7812h-2.7812zM86.219,44.500h2.7812v2.7812h-2.7812zM16.688,47.281h2.7812v2.7812h-2.7812zM38.938,47.281h2.7812v2.7812h-2.7812zM61.188,47.281h2.7812v2.7812h-2.7812zM83.438,47.281h2.7812v2.7812h-2.7812zM13.906,50.062h2.7812v2.7812h-2.7812zM36.156,50.062h2.7812v2.7812h-2.7812zM58.406,50.062h2.7812v2.7812h-2.7812zM80.656,50.062h2.7812v2.7812h-2.7812zM11.125,52.844h2.7812v2.7812h-2.7812zM33.375,52.844h2.7812v2.7812h-2.7812zM55.625,52.844h2.7812v2.7812h-2.7812zM77.875,52.844h2.7812v2.7812h-2.7812zM8.344,55.625h2.7812v2.7812h-2.7812zM30.594,55.625h2.7812v2.7812h-2.7812zM52.844,55.625h2.7812v2.7812h-2.7812zM75.094,55.625h2.7812v2.7812h-2.7812zM5.562,58.406h2.7812v2.7812h-2.7812zM27.812,58.406h2.7812v2.7812h-2.7812zM50.062,58.406h2.7812v2.7812h-2.7812zM72.312,58.406h2.7812v2.7812h-2.7812zM2.781,61.188h2.7812v2.7812h-2.7812zM25.031,61.188h2.7812v2.7812h-2.7812zM47.281,61.188h2.7812v2.7812h-2.7812zM69.531,61.188h2.7812v2.7812h-2.7812zM0.000,63.969h2.7812v2.7812h-2.7812zM22.250,63.969h2.7812v2.7812h-2.7812zM44.500,63.969h2.7812v2.7812h-2.7812zM66.750,63.969h2.7812v2.7812h-2.7812zM19.469,66.750h2.7812v2.7812h-2.7812zM41.719,66.750h2.7812v2.7812h-2.7812zM63.969,66.750h2.7812v2.7812h-2.7812zM86.219,66.750h2.7812v2.7812h-2.7812zM16.688,69.531h2.7812v2.7812h-2.7812zM38.938,69.531h2.7812v2.7812h-2.7812zM61.188,69.531h2.7812v2.7812h-2.7812zM83.438,69.531h2.7812v2.7812h-2.7812zM13.906,72.312h2.7812v2.7812h-2.7812zM36.156,72.312h2.7812v2.7812h-2.7812zM58.406,72.312h2.7812v2.7812h-2.7812zM80.656,72.312h2.7812v2.7812h-2.7812zM11.125,75.094h2.7812v2.7812h-2.7812zM33.375,75.094h2.7812v2.7812h-2.7812zM55.625,75.094h2.7812v2.7812h-2.7812zM77.875,75.094h2.7812v2.7812h-2.7812zM8.344,77.875h2.7812v2.7812h-2.7812zM30.594,77.875h2.7812v2.7812h-2.7812zM52.844,77.875h2.7812v2.7812h-2.7812zM75.094,77.875h2.7812v2.7812h-2.7812zM5.562,80.656h2.7812v2.7812h-2.7812zM27.812,80.656h2.7812v2.7812h-2.7812zM50.062,80.656h2.7812v2.7812h-2.7812zM72.312,80.656h2.7812v2.7812h-2.7812zM2.781,83.438h2.7812v2.7812h-2.7812zM25.031,83.438h2.7812v2.7812h-2.7812zM47.281,83.438h2.7812v2.7812h-2.7812zM69.531,83.438h2.7812v2.7812h-2.7812zM0.000,86.219h2.7812v2.7812h-2.7812zM22.250,86.219h2.7812v2.7812h-2.7812zM44.500,86.219h2.7812v2.7812h-2.7812zM66.750,86.219h2.7812v2.7812h-2.7812z" fill="#000"/></pattern>
<pattern id="h21" patternUnits="userSpaceOnUse" x="18.15" y="0" width="89" height="89"><rect width="89" height="89" fill="#ff0000"/><path d="M19.469,0.000h2.7812v2.7812h-2.7812zM41.719,0.000h2.7812v2.7812h-2.7812zM63.969,0.000h2.7812v2.7812h-2.7812zM86.219,0.000h2.7812v2.7812h-2.7812zM16.688,2.781h2.7812v2.7812h-2.7812zM38.938,2.781h2.7812v2.7812h-2.7812zM61.188,2.781h2.7812v2.7812h-2.7812zM83.438,2.781h2.7812v2.7812h-2.7812zM13.906,5.562h2.7812v2.7812h-2.7812zM36.156,5.562h2.7812v2.7812h-2.7812zM58.406,5.562h2.7812v2.7812h-2.7812zM80.656,5.562h2.7812v2.7812h-2.7812zM11.125,8.344h2.7812v2.7812h-2.7812zM33.375,8.344h2.7812v2.7812h-2.7812zM55.625,8.344h2.7812v2.7812h-2.7812zM77.875,8.344h2.7812v2.7812h-2.7812zM8.344,11.125h2.7812v2.7812h-2.7812zM30.594,11.125h2.7812v2.7812h-2.7812zM52.844,11.125h2.7812v2.7812h-2.7812zM75.094,11.125h2.7812v2.7812h-2.7812zM5.562,13.906h2.7812v2.7812h-2.7812zM27.812,13.906h2.7812v2.7812h-2.7812zM50.062,13.906h2.7812v2.7812h-2.7812zM72.312,13.906h2.7812v2.7812h-2.7812zM2.781,16.688h2.7812v2.7812h-2.7812zM25.031,16.688h2.7812v2.7812h-2.7812zM47.281,16.688h2.7812v2.7812h-2.7812zM69.531,16.688h2.7812v2.7812h-2.7812zM0.000,19.469h2.7812v2.7812h-2.7812zM22.250,19.469h2.7812v2.7812h-2.7812zM44.500,19.469h2.7812v2.7812h-2.7812zM66.750,19.469h2.7812v2.7812h-2.7812zM19.469,22.250h2.7812v2.7812h-2.7812zM41.719,22.250h2.7812v2.7812h-2.7812zM63.969,22.250h2.7812v2.7812h-2.7812zM86.219,22.250h2.7812v2.7812h-2.7812zM16.688,25.031h2.7812v2.7812h-2.7812zM38.938,25.031h2.7812v2.7812h-2.7812zM61.188,25.031h2.7812v2.7812h-2.7812zM83.438,25.031h2.7812v2.7812h-2.7812zM13.906,27.812h2.7812v2.7812h-2.7812zM36.156,27.812h2.7812v2.7812h-2.7812zM58.406,27.812h2.7812v2.7812h-2.7812zM80.656,27.812h2.7812v2.7812h-2.7812zM11.125,30.594h2.7812v2.7812h-2.7812zM33.375,30.594h2.7812v2.7812h-2.7812zM55.625,30.594h2.7812v2.7812h-2.7812zM77.875,30.594h2.7812v2.7812h-2.7812zM8.344,33.375h2.7812v2.7812h-2.7812zM30.594,33.375h2.7812v2.7812h-2.7812zM52.844,33.375h2.7812v2.7812h-2.7812zM75.094,33.375h2.7812v2.7812h-2.7812zM5.562,36.156h2.7812v2.7812h-2.7812zM27.812,36.156h2.7812v2.7812h-2.7812zM50.062,36.156h2.7812v2.7812h-2.7812zM72.312,36.156h2.7812v2.7812h-2.7812zM2.781,38.938h2.7812v2.7812h-2.7812zM25.031,38.938h2.7812v2.7812h-2.7812zM47.281,38.938h2.7812v2.7812h-2.7812zM69.531,38.938h2.7812v2.7812h-2.7812zM0.000,41.719h2.7812v2.7812h-2.7812zM22.250,41.719h2.7812v2.7812h-2.7812zM44.500,41.719h2.7812v2.7812h-2.7812zM66.750,41.719h2.7812v2.7812h-2.7812zM19.469,44.500h2.7812v2.7812h-2.7812zM41.719,44.500h2.7812v2.7812h-2.7812zM63.969,44.500h2.7812v2.7812h-2.7812zM86.219,44.500h2.7812v2.7812h-2.7812zM16.688,47.281h2.7812v2.7812h-2.7812zM38.938,47.281h2.7812v2.7812h-2.7812zM61.188,47.281h2.7812v2.7812h-2.7812zM83.438,47.281h2.7812v2.7812h-2.7812zM13.906,50.062h2.7812v2.7812h-2.7812zM36.156,50.062h2.7812v2.7812h-2.7812zM58.406,50.062h2.7812v2.7812h-2.7812zM80.656,50.062h2.7812v2.7812h-2.7812zM11.125,52.844h2.7812v2.7812h-2.7812zM33.375,52.844h2.7812v2.7812h-2.7812zM55.625,52.844h2.7812v2.7812h-2.7812zM77.875,52.844h2.7812v2.7812h-2.7812zM8.344,55.625h2.7812v2.7812h-2.7812zM30.594,55.625h2.7812v2.7812h-2.7812zM52.844,55.625h2.7812v2.7812h-2.7812zM75.094,55.625h2.7812v2.7812h-2.7812zM5.562,58.406h2.7812v2.7812h-2.7812zM27.812,58.406h2.7812v2.7812h-2.7812zM50.062,58.406h2.7812v2.7812h-2.7812zM72.312,58.406h2.7812v2.7812h-2.7812zM2.781,61.188h2.7812v2.7812h-2.7812zM25.031,61.188h2.7812v2.7812h-2.7812zM47.281,61.188h2.7812v2.7812h-2.7812zM69.531,61.188h2.7812v2.7812h-2.7812zM0.000,63.969h2.7812v2.7812h-2.7812zM22.250,63.969h2.7812v2.7812h-2.7812zM44.500,63.969h2.7812v2.7812h-2.7812zM66.750,63.969h2.7812v2.7812h-2.7812zM19.469,66.750h2.7812v2.7812h-2.7812zM41.719,66.750h2.7812v2.7812h-2.7812zM63.969,66.750h2.7812v2.7812h-2.7812zM86.219,66.750h2.7812v2.7812h-2.7812zM16.688,69.531h2.7812v2.7812h-2.7812zM38.938,69.531h2.7812v2.7812h-2.7812zM61.188,69.531h2.7812v2.7812h-2.7812zM83.438,69.531h2.7812v2.7812h-2.7812zM13.906,72.312h2.7812v2.7812h-2.7812zM36.156,72.312h2.7812v2.7812h-2.7812zM58.406,72.312h2.7812v2.7812h-2.7812zM80.656,72.312h2.7812v2.7812h-2.7812zM11.125,75.094h2.7812v2.7812h-2.7812zM33.375,75.094h2.7812v2.7812h-2.7812zM55.625,75.094h2.7812v2.7812h-2.7812zM77.875,75.094h2.7812v2.7812h-2.7812zM8.344,77.875h2.7812v2.7812h-2.7812zM30.594,77.875h2.7812v2.7812h-2.7812zM52.844,77.875h2.7812v2.7812h-2.7812zM75.094,77.875h2.7812v2.7812h-2.7812zM5.562,80.656h2.7812v2.7812h-2.7812zM27.812,80.656h2.7812v2.7812h-2.7812zM50.062,80.656h2.7812v2.7812h-2.7812zM72.312,80.656h2.7812v2.7812h-2.7812zM2.781,83.438h2.7812v2.7812h-2.7812zM25.031,83.438h2.7812v2.7812h-2.7812zM47.281,83.438h2.7812v2.7812h-2.7812zM69.531,83.438h2.7812v2.7812h-2.7812zM0.000,86.219h2.7812v2.7812h-2.7812zM22.250,86.219h2.7812v2.7812h-2.7812zM44.500,86.219h2.7812v2.7812h-2.7812zM66.750,86.219h2.7812v2.7812h-2.7812z" fill="#000"/></pattern>
<pattern id="h22" patternUnits="userSpaceOnUse" x="15.6" y="0" width="89" height="89"><rect width="89" height="89" fill="#0000ff"/><path d="M19.469,0.000h2.7812v2.7812h-2.7812zM41.719,0.000h2.7812v2.7812h-2.7812zM63.969,0.000h2.7812v2.7812h-2.7812zM86.219,0.000h2.7812v2.7812h-2.7812zM16.688,2.781h2.7812v2.7812h-2.7812zM38.938,2.781h2.7812v2.7812h-2.7812zM61.188,2.781h2.7812v2.7812h-2.7812zM83.438,2.781h2.7812v2.7812h-2.7812zM13.906,5.562h2.7812v2.7812h-2.7812zM36.156,5.562h2.7812v2.7812h-2.7812zM58.406,5.562h2.7812v2.7812h-2.7812zM80.656,5.562h2.7812v2.7812h-2.7812zM11.125,8.344h2.7812v2.7812h-2.7812zM33.375,8.344h2.7812v2.7812h-2.7812zM55.625,8.344h2.7812v2.7812h-2.7812zM77.875,8.344h2.7812v2.7812h-2.7812zM8.344,11.125h2.7812v2.7812h-2.7812zM30.594,11.125h2.7812v2.7812h-2.7812zM52.844,11.125h2.7812v2.7812h-2.7812zM75.094,11.125h2.7812v2.7812h-2.7812zM5.562,13.906h2.7812v2.7812h-2.7812zM27.812,13.906h2.7812v2.7812h-2.7812zM50.062,13.906h2.7812v2.7812h-2.7812zM72.312,13.906h2.7812v2.7812h-2.7812zM2.781,16.688h2.7812v2.7812h-2.7812zM25.031,16.688h2.7812v2.7812h-2.7812zM47.281,16.688h2.7812v2.7812h-2.7812zM69.531,16.688h2.7812v2.7812h-2.7812zM0.000,19.469h2.7812v2.7812h-2.7812zM22.250,19.469h2.7812v2.7812h-2.7812zM44.500,19.469h2.7812v2.7812h-2.7812zM66.750,19.469h2.7812v2.7812h-2.7812zM19.469,22.250h2.7812v2.7812h-2.7812zM41.719,22.250h2.7812v2.7812h-2.7812zM63.969,22.250h2.7812v2.7812h-2.7812zM86.219,22.250h2.7812v2.7812h-2.7812zM16.688,25.031h2.7812v2.7812h-2.7812zM38.938,25.031h2.7812v2.7812h-2.7812zM61.188,25.031h2.7812v2.7812h-2.7812zM83.438,25.031h2.7812v2.7812h-2.7812zM13.906,27.812h2.7812v2.7812h-2.7812zM36.156,27.812h2.7812v2.7812h-2.7812zM58.406,27.812h2.7812v2.7812h-2.7812zM80.656,27.812h2.7812v2.7812h-2.7812zM11.125,30.594h2.7812v2.7812h-2.7812zM33.375,30.594h2.7812v2.7812h-2.7812zM55.625,30.594h2.7812v2.7812h-2.7812zM77.875,30.594h2.7812v2.7812h-2.7812zM8.344,33.375h2.7812v2.7812h-2.7812zM30.594,33.375h2.7812v2.7812h-2.7812zM52.844,33.375h2.7812v2.7812h-2.7812zM75.094,33.375h2.7812v2.7812h-2.7812zM5.562,36.156h2.7812v2.7812h-2.7812zM27.812,36.156h2.7812v2.7812h-2.7812zM50.062,36.156h2.7812v2.7812h-2.7812zM72.312,36.156h2.7812v2.7812h-2.7812zM2.781,38.938h2.7812v2.7812h-2.7812zM25.031,38.938h2.7812v2.7812h-2.7812zM47.281,38.938h2.7812v2.7812h-2.7812zM69.531,38.938h2.7812v2.7812h-2.7812zM0.000,41.719h2.7812v2.7812h-2.7812zM22.250,41.719h2.7812v2.7812h-2.7812zM44.500,41.719h2.7812v2.7812h-2.7812zM66.750,41.719h2.7812v2.7812h-2.7812zM19.469,44.500h2.7812v2.7812h-2.7812zM41.719,44.500h2.7812v2.7812h-2.7812zM63.969,44.500h2.7812v2.7812h-2.7812zM86.219,44.500h2.7812v2.7812h-2.7812zM16.688,47.281h2.7812v2.7812h-2.7812zM38.938,47.281h2.7812v2.7812h-2.7812zM61.188,47.281h2.7812v2.7812h-2.7812zM83.438,47.281h2.7812v2.7812h-2.7812zM13.906,50.062h2.7812v2.7812h-2.7812zM36.156,50.062h2.7812v2.7812h-2.7812zM58.406,50.062h2.7812v2.7812h-2.7812zM80.656,50.062h2.7812v2.7812h-2.7812zM11.125,52.844h2.7812v2.7812h-2.7812zM33.375,52.844h2.7812v2.7812h-2.7812zM55.625,52.844h2.7812v2.7812h-2.7812zM77.875,52.844h2.7812v2.7812h-2.7812zM8.344,55.625h2.7812v2.7812h-2.7812zM30.594,55.625h2.7812v2.7812h-2.7812zM52.844,55.625h2.7812v2.7812h-2.7812zM75.094,55.625h2.7812v2.7812h-2.7812zM5.562,58.406h2.7812v2.7812h-2.7812zM27.812,58.406h2.7812v2.7812h-2.7812zM50.062,58.406h2.7812v2.7812h-2.7812zM72.312,58.406h2.7812v2.7812h-2.7812zM2.781,61.188h2.7812v2.7812h-2.7812zM25.031,61.188h2.7812v2.7812h-2.7812zM47.281,61.188h2.7812v2.7812h-2.7812zM69.531,61.188h2.7812v2.7812h-2.7812zM0.000,63.969h2.7812v2.7812h-2.7812zM22.250,63.969h2.7812v2.7812h-2.7812zM44.500,63.969h2.7812v2.7812h-2.7812zM66.750,63.969h2.7812v2.7812h-2.7812zM19.469,66.750h2.7812v2.7812h-2.7812zM41.719,66.750h2.7812v2.7812h-2.7812zM63.969,66.750h2.7812v2.7812h-2.7812zM86.219,66.750h2.7812v2.7812h-2.7812zM16.688,69.531h2.7812v2.7812h-2.7812zM38.938,69.531h2.7812v2.7812h-2.7812zM61.188,69.531h2.7812v2.7812h-2.7812zM83.438,69.531h2.7812v2.7812h-2.7812zM13.906,72.312h2.7812v2.7812h-2.7812zM36.156,72.312h2.7812v2.7812h-2.7812zM58.406,72.312h2.7812v2.7812h-2.7812zM80.656,72.312h2.7812v2.7812h-2.7812zM11.125,75.094h2.7812v2.7812h-2.7812zM33.375,75.094h2.7812v2.7812h-2.7812zM55.625,75.094h2.7812v2.7812h-2.7812zM77.875,75.094h2.7812v2.7812h-2.7812zM8.344,77.875h2.7812v2.7812h-2.7812zM30.594,77.875h2.7812v2.7812h-2.7812zM52.844,77.875h2.7812v2.7812h-2.7812zM75.094,77.875h2.7812v2.7812h-2.7812zM5.562,80.656h2.7812v2.7812h-2.7812zM27.812,80.656h2.7812v2.7812h-2.7812zM50.062,80.656h2.7812v2.7812h-2.7812zM72.312,80.656h2.7812v2.7812h-2.7812zM2.781,83.438h2.7812v2.7812h-2.7812zM25.031,83.438h2.7812v2.7812h-2.7812zM47.281,83.438h2.7812v2.7812h-2.7812zM69.531,83.438h2.7812v2.7812h-2.7812zM0.000,86.219h2.7812v2.7812h-2.7812zM22.250,86.219h2.7812v2.7812h-2.7812zM44.500,86.219h2.7812v2.7812h-2.7812zM66.750,86.219h2.7812v2.7812h-2.7812z" fill="#000"/></pattern>
<pattern id="h30" patternUnits="userSpaceOnUse" x="7.35" y="0" width="89" height="89"><rect width="89" height="89" fill="#ffffff"/><path d="M19.469,0.000h2.7812v2.7812h-2.7812zM41.719,0.000h2.7812v2.7812h-2.7812zM63.969,0.000h2.7812v2.7812h-2.7812zM86.219,0.000h2.7812v2.7812h-2.7812zM16.688,2.781h2.7812v2.7812h-2.7812zM38.938,2.781h2.7812v2.7812h-2.7812zM61.188,2.781h2.7812v2.7812h-2.7812zM83.438,2.781h2.7812v2.7812h-2.7812zM13.906,5.562h2.7812v2.7812h-2.7812zM36.156,5.562h2.7812v2.7812h-2.7812zM58.406,5.562h2.7812v2.7812h-2.7812zM80.656,5.562h2.7812v2.7812h-2.7812zM11.125,8.344h2.7812v2.7812h-2.7812zM33.375,8.344h2.7812v2.7812h-2.7812zM55.625,8.344h2.7812v2.7812h-2.7812zM77.875,8.344h2.7812v2.7812h-2.7812zM8.344,11.125h2.7812v2.7812h-2.7812zM30.594,11.125h2.7812v2.7812h-2.7812zM52.844,11.125h2.7812v2.7812h-2.7812zM75.094,11.125h2.7812v2.7812h-2.7812zM5.562,13.906h2.7812v2.7812h-2.7812zM27.812,13.906h2.7812v2.7812h-2.7812zM50.062,13.906h2.7812v2.7812h-2.7812zM72.312,13.906h2.7812v2.7812h-2.7812zM2.781,16.688h2.7812v2.7812h-2.7812zM25.031,16.688h2.7812v2.7812h-2.7812zM47.281,16.688h2.7812v2.7812h-2.7812zM69.531,16.688h2.7812v2.7812h-2.7812zM0.000,19.469h2.7812v2.7812h-2.7812zM22.250,19.469h2.7812v2.7812h-2.7812zM44.500,19.469h2.7812v2.7812h-2.7812zM66.750,19.469h2.7812v2.7812h-2.7812zM19.469,22.250h2.7812v2.7812h-2.7812zM41.719,22.250h2.7812v2.7812h-2.7812zM63.969,22.250h2.7812v2.7812h-2.7812zM86.219,22.250h2.7812v2.7812h-2.7812zM16.688,25.031h2.7812v2.7812h-2.7812zM38.938,25.031h2.7812v2.7812h-2.7812zM61.188,25.031h2.7812v2.7812h-2.7812zM83.438,25.031h2.7812v2.7812h-2.7812zM13.906,27.812h2.7812v2.7812h-2.7812zM36.156,27.812h2.7812v2.7812h-2.7812zM58.406,27.812h2.7812v2.7812h-2.7812zM80.656,27.812h2.7812v2.7812h-2.7812zM11.125,30.594h2.7812v2.7812h-2.7812zM33.375,30.594h2.7812v2.7812h-2.7812zM55.625,30.594h2.7812v2.7812h-2.7812zM77.875,30.594h2.7812v2.7812h-2.7812zM8.344,33.375h2.7812v2.7812h-2.7812zM30.594,33.375h2.7812v2.7812h-2.7812zM52.844,33.375h2.7812v2.7812h-2.7812zM75.094,33.375h2.7812v2.7812h-2.7812zM5.562,36.156h2.7812v2.7812h-2.7812zM27.812,36.156h2.7812v2.7812h-2.7812zM50.062,36.156h2.7812v2.7812h-2.7812zM72.312,36.156h2.7812v2.7812h-2.7812zM2.781,38.938h2.7812v2.7812h-2.7812zM25.031,38.938h2.7812v2.7812h-2.7812zM47.281,38.938h2.7812v2.7812h-2.7812zM69.531,38.938h2.7812v2.7812h-2.7812zM0.000,41.719h2.7812v2.7812h-2.7812zM22.250,41.719h2.7812v2.7812h-2.7812zM44.500,41.719h2.7812v2.7812h-2.7812zM66.750,41.719h2.7812v2.7812h-2.7812zM19.469,44.500h2.7812v2.7812h-2.7812zM41.719,44.500h2.7812v2.7812h-2.7812zM63.969,44.500h2.7812v2.7812h-2.7812zM86.219,44.500h2.7812v2.7812h-2.7812zM16.688,47.281h2.7812v2.7812h-2.7812zM38.938,47.281h2.7812v2.7812h-2.7812zM61.188,47.281h2.7812v2.7812h-2.7812zM83.438,47.281h2.7812v2.7812h-2.7812zM13.906,50.062h2.7812v2.7812h-2.7812zM36.156,50.062h2.7812v2.7812h-2.7812zM58.406,50.062h2.7812v2.7812h-2.7812zM80.656,50.062h2.7812v2.7812h-2.7812zM11.125,52.844h2.7812v2.7812h-2.7812zM33.375,52.844h2.7812v2.7812h-2.7812zM55.625,52.844h2.7812v2.7812h-2.7812zM77.875,52.844h2.7812v2.7812h-2.7812zM8.344,55.625h2.7812v2.7812h-2.7812zM30.594,55.625h2.7812v2.7812h-2.7812zM52.844,55.625h2.7812v2.7812h-2.7812zM75.094,55.625h2.7812v2.7812h-2.7812zM5.562,58.406h2.7812v2.7812h-2.7812zM27.812,58.406h2.7812v2.7812h-2.7812zM50.062,58.406h2.7812v2.7812h-2.7812zM72.312,58.406h2.7812v2.7812h-2.7812zM2.781,61.188h2.7812v2.7812h-2.7812zM25.031,61.188h2.7812v2.7812h-2.7812zM47.281,61.188h2.7812v2.7812h-2.7812zM69.531,61.188h2.7812v2.7812h-2.7812zM0.000,63.969h2.7812v2.7812h-2.7812zM22.250,63.969h2.7812v2.7812h-2.7812zM44.500,63.969h2.7812v2.7812h-2.7812zM66.750,63.969h2.7812v2.7812h-2.7812zM19.469,66.750h2.7812v2.7812h-2.7812zM41.719,66.750h2.7812v2.7812h-2.7812zM63.969,66.750h2.7812v2.7812h-2.7812zM86.219,66.750h2.7812v2.7812h-2.7812zM16.688,69.531h2.7812v2.7812h-2.7812zM38.938,69.531h2.7812v2.7812h-2.7812zM61.188,69.531h2.7812v2.7812h-2.7812zM83.438,69.531h2.7812v2.7812h-2.7812zM13.906,72.312h2.7812v2.7812h-2.7812zM36.156,72.312h2.7812v2.7812h-2.7812zM58.406,72.312h2.7812v2.7812h-2.7812zM80.656,72.312h2.7812v2.7812h-2.7812zM11.125,75.094h2.7812v2.7812h-2.7812zM33.375,75.094h2.7812v2.7812h-2.7812zM55.625,75.094h2.7812v2.7812h-2.7812zM77.875,75.094h2.7812v2.7812h-2.7812zM8.344,77.875h2.7812v2.7812h-2.7812zM30.594,77.875h2.7812v2.7812h-2.7812zM52.844,77.875h2.7812v2.7812h-2.7812zM75.094,77.875h2.7812v2.7812h-2.7812zM5.562,80.656h2.7812v2.7812h-2.7812zM27.812,80.656h2.7812v2.7812h-2.7812zM50.062,80.656h2.7812v2.7812h-2.7812zM72.312,80.656h2.7812v2.7812h-2.7812zM2.781,83.438h2.7812v2.7812h-2.7812zM25.031,83.438h2.7812v2.7812h-2.7812zM47.281,83.438h2.7812v2.7812h-2.7812zM69.531,83.438h2.7812v2.7812h-2.7812zM0.000,86.219h2.7812v2.7812h-2.7812zM22.250,86.219h2.7812v2.7812h-2.7812zM44.500,86.219h2.7812v2.7812h-2.7812zM66.750,86.219h2.7812v2.7812h-2.7812z" fill="#000"/></pattern>
<pattern id="h31" patternUnits="userSpaceOnUse" x="4.8" y="0" width="89" height="89"><rect width="89" height="89" fill="#ff0000"/><path d="M19.469,0.000h2.7812v2.7812h-2.7812zM41.719,0.000h2.7812v2.7812h-2.7812zM63.969,0.000h2.7812v2.7812h-2.7812zM86.219,0.000h2.7812v2.7812h-2.7812zM16.688,2.781h2.7812v2.7812h-2.7812zM38.938,2.781h2.7812v2.7812h-2.7812zM61.188,2.781h2.7812v2.7812h-2.7812zM83.438,2.781h2.7812v2.7812h-2.7812zM13.906,5.562h2.7812v2.7812h-2.7812zM36.156,5.562h2.7812v2.7812h-2.7812zM58.406,5.562h2.7812v2.7812h-2.7812zM80.656,5.562h2.7812v2.7812h-2.7812zM11.125,8.344h2.7812v2.7812h-2.7812zM33.375,8.344h2.7812v2.7812h-2.7812zM55.625,8.344h2.7812v2.7812h-2.7812zM77.875,8.344h2.7812v2.7812h-2.7812zM8.344,11.125h2.7812v2.7812h-2.7812zM30.594,11.125h2.7812v2.7812h-2.7812zM52.844,11.125h2.7812v2.7812h-2.7812zM75.094,11.125h2.7812v2.7812h-2.7812zM5.562,13.906h2.7812v2.7812h-2.7812zM27.812,13.906h2.7812v2.7812h-2.7812zM50.062,13.906h2.7812v2.7812h-2.7812zM72.312,13.906h2.7812v2.7812h-2.7812zM2.781,16.688h2.7812v2.7812h-2.7812zM25.031,16.688h2.7812v2.7812h-2.7812zM47.281,16.688h2.7812v2.7812h-2.7812zM69.531,16.688h2.7812v2.7812h-2.7812zM0.000,19.469h2.7812v2.7812h-2.7812zM22.250,19.469h2.7812v2.7812h-2.7812zM44.500,19.469h2.7812v2.7812h-2.7812zM66.750,19.469h2.7812v2.7812h-2.7812zM19.469,22.250h2.7812v2.7812h-2.7812zM41.719,22.250h2.7812v2.7812h-2.7812zM63.969,22.250h2.7812v2.7812h-2.7812zM86.219,22.250h2.7812v2.7812h-2.7812zM16.688,25.031h2.7812v2.7812h-2.7812zM38.938,25.031h2.7812v2.7812h-2.7812zM61.188,25.031h2.7812v2.7812h-2.7812zM83.438,25.031h2.7812v2.7812h-2.7812zM13.906,27.812h2.7812v2.7812h-2.7812zM36.156,27.812h2.7812v2.7812h-2.7812zM58.406,27.812h2.7812v2.7812h-2.7812zM80.656,27.812h2.7812v2.7812h-2.7812zM11.125,30.594h2.7812v2.7812h-2.7812zM33.375,30.594h2.7812v2.7812h-2.7812zM55.625,30.594h2.7812v2.7812h-2.7812zM77.875,30.594h2.7812v2.7812h-2.7812zM8.344,33.375h2.7812v2.7812h-2.7812zM30.594,33.375h2.7812v2.7812h-2.7812zM52.844,33.375h2.7812v2.7812h-2.7812zM75.094,33.375h2.7812v2.7812h-2.7812zM5.562,36.156h2.7812v2.7812h-2.7812zM27.812,36.156h2.7812v2.7812h-2.7812zM50.062,36.156h2.7812v2.7812h-2.7812zM72.312,36.156h2.7812v2.7812h-2.7812zM2.781,38.938h2.7812v2.7812h-2.7812zM25.031,38.938h2.7812v2.7812h-2.7812zM47.281,38.938h2.7812v2.7812h-2.7812zM69.531,38.938h2.7812v2.7812h-2.7812zM0.000,41.719h2.7812v2.7812h-2.7812zM22.250,41.719h2.7812v2.7812h-2.7812zM44.500,41.719h2.7812v2.7812h-2.7812zM66.750,41.719h2.7812v2.7812h-2.7812zM19.469,44.500h2.7812v2.7812h-2.7812zM41.719,44.500h2.7812v2.7812h-2.7812zM63.969,44.500h2.7812v2.7812h-2.7812zM86.219,44.500h2.7812v2.7812h-2.7812zM16.688,47.281h2.7812v2.7812h-2.7812zM38.938,47.281h2.7812v2.7812h-2.7812zM61.188,47.281h2.7812v2.7812h-2.7812zM83.438,47.281h2.7812v2.7812h-2.7812zM13.906,50.062h2.7812v2.7812h-2.7812zM36.156,50.062h2.7812v2.7812h-2.7812zM58.406,50.062h2.7812v2.7812h-2.7812zM80.656,50.062h2.7812v2.7812h-2.7812zM11.125,52.844h2.7812v2.7812h-2.7812zM33.375,52.844h2.7812v2.7812h-2.7812zM55.625,52.844h2.7812v2.7812h-2.7812zM77.875,52.844h2.7812v2.7812h-2.7812zM8.344,55.625h2.7812v2.7812h-2.7812zM30.594,55.625h2.7812v2.7812h-2.7812zM52.844,55.625h2.7812v2.7812h-2.7812zM75.094,55.625h2.7812v2.7812h-2.7812zM5.562,58.406h2.7812v2.7812h-2.7812zM27.812,58.406h2.7812v2.7812h-2.7812zM50.062,58.406h2.7812v2.7812h-2.7812zM72.312,58.406h2.7812v2.7812h-2.7812zM2.781,61.188h2.7812v2.7812h-2.7812zM25.031,61.188h2.7812v2.7812h-2.7812zM47.281,61.188h2.7812v2.7812h-2.7812zM69.531,61.188h2.7812v2.7812h-2.7812zM0.000,63.969h2.7812v2.7812h-2.7812zM22.250,63.969h2.7812v2.7812h-2.7812zM44.500,63.969h2.7812v2.7812h-2.7812zM66.750,63.969h2.7812v2.7812h-2.7812zM19.469,66.750h2.7812v2.7812h-2.7812zM41.719,66.750h2.7812v2.7812h-2.7812zM63.969,66.750h2.7812v2.7812h-2.7812zM86.219,66.750h2.7812v2.7812h-2.7812zM16.688,69.531h2.7812v2.7812h-2.7812zM38.938,69.531h2.7812v2.7812h-2.7812zM61.188,69.531h2.7812v2.7812h-2.7812zM83.438,69.531h2.7812v2.7812h-2.7812zM13.906,72.312h2.7812v2.7812h-2.7812zM36.156,72.312h2.7812v2.7812h-2.7812zM58.406,72.312h2.7812v2.7812h-2.7812zM80.656,72.312h2.7812v2.7812h-2.7812zM11.125,75.094h2.7812v2.7812h-2.7812zM33.375,75.094h2.7812v2.7812h-2.7812zM55.625,75.094h2.7812v2.7812h-2.7812zM77.875,75.094h2.7812v2.7812h-2.7812zM8.344,77.875h2.7812v2.7812h-2.7812zM30.594,77.875h2.7812v2.7812h-2.7812zM52.844,77.875h2.7812v2.7812h-2.7812zM75.094,77.875h2.7812v2.7812h-2.7812zM5.562,80.656h2.7812v2.7812h-2.7812zM27.812,80.656h2.7812v2.7812h-2.7812zM50.062,80.656h2.7812v2.7812h-2.7812zM72.312,80.656h2.7812v2.7812h-2.7812zM2.781,83.438h2.7812v2.7812h-2.7812zM25.031,83.438h2.7812v2.7812h-2.7812zM47.281,83.438h2.7812v2.7812h-2.7812zM69.531,83.438h2.7812v2.7812h-2.7812zM0.000,86.219h2.7812v2.7812h-2.7812zM22.250,86.219h2.7812v2.7812h-2.7812zM44.500,86.219h2.7812v2.7812h-2.7812zM66.750,86.219h2.7812v2.7812h-2.7812z" fill="#000"/></pattern>
<pattern id="h32" patternUnits="userSpaceOnUse" x="2.22" y="0" width="89" height="89"><rect width="89" height="89" fill="#0000ff"/><path d="M19.469,0.000h2.7812v2.7812h-2.7812zM41.719,0.000h2.7812v2.7812h-2.7812zM63.969,0.000h2.7812v2.7812h-2.7812zM86.219,0.000h2.7812v2.7812h-2.7812zM16.688,2.781h2.7812v2.7812h-2.7812zM38.938,2.781h2.7812v2.7812h-2.7812zM61.188,2.781h2.7812v2.7812h-2.7812zM83.438,2.781h2.7812v2.7812h-2.7812zM13.906,5.562h2.7812v2.7812h-2.7812zM36.156,5.562h2.7812v2.7812h-2.7812zM58.406,5.562h2.7812v2.7812h-2.7812zM80.656,5.562h2.7812v2.7812h-2.7812zM11.125,8.344h2.7812v2.7812h-2.7812zM33.375,8.344h2.7812v2.7812h-2.7812zM55.625,8.344h2.7812v2.7812h-2.7812zM77.875,8.344h2.7812v2.7812h-2.7812zM8.344,11.125h2.7812v2.7812h-2.7812zM30.594,11.125h2.7812v2.7812h-2.7812zM52.844,11.125h2.7812v2.7812h-2.7812zM75.094,11.125h2.7812v2.7812h-2.7812zM5.562,13.906h2.7812v2.7812h-2.7812zM27.812,13.906h2.7812v2.7812h-2.7812zM50.062,13.906h2.7812v2.7812h-2.7812zM72.312,13.906h2.7812v2.7812h-2.7812zM2.781,16.688h2.7812v2.7812h-2.7812zM25.031,16.688h2.7812v2.7812h-2.7812zM47.281,16.688h2.7812v2.7812h-2.7812zM69.531,16.688h2.7812v2.7812h-2.7812zM0.000,19.469h2.7812v2.7812h-2.7812zM22.250,19.469h2.7812v2.7812h-2.7812zM44.500,19.469h2.7812v2.7812h-2.7812zM66.750,19.469h2.7812v2.7812h-2.7812zM19.469,22.250h2.7812v2.7812h-2.7812zM41.719,22.250h2.7812v2.7812h-2.7812zM63.969,22.250h2.7812v2.7812h-2.7812zM86.219,22.250h2.7812v2.7812h-2.7812zM16.688,25.031h2.7812v2.7812h-2.7812zM38.938,25.031h2.7812v2.7812h-2.7812zM61.188,25.031h2.7812v2.7812h-2.7812zM83.438,25.031h2.7812v2.7812h-2.7812zM13.906,27.812h2.7812v2.7812h-2.7812zM36.156,27.812h2.7812v2.7812h-2.7812zM58.406,27.812h2.7812v2.7812h-2.7812zM80.656,27.812h2.7812v2.7812h-2.7812zM11.125,30.594h2.7812v2.7812h-2.7812zM33.375,30.594h2.7812v2.7812h-2.7812zM55.625,30.594h2.7812v2.7812h-2.7812zM77.875,30.594h2.7812v2.7812h-2.7812zM8.344,33.375h2.7812v2.7812h-2.7812zM30.594,33.375h2.7812v2.7812h-2.7812zM52.844,33.375h2.7812v2.7812h-2.7812zM75.094,33.375h2.7812v2.7812h-2.7812zM5.562,36.156h2.7812v2.7812h-2.7812zM27.812,36.156h2.7812v2.7812h-2.7812zM50.062,36.156h2.7812v2.7812h-2.7812zM72.312,36.156h2.7812v2.7812h-2.7812zM2.781,38.938h2.7812v2.7812h-2.7812zM25.031,38.938h2.7812v2.7812h-2.7812zM47.281,38.938h2.7812v2.7812h-2.7812zM69.531,38.938h2.7812v2.7812h-2.7812zM0.000,41.719h2.7812v2.7812h-2.7812zM22.250,41.719h2.7812v2.7812h-2.7812zM44.500,41.719h2.7812v2.7812h-2.7812zM66.750,41.719h2.7812v2.7812h-2.7812zM19.469,44.500h2.7812v2.7812h-2.7812zM41.719,44.500h2.7812v2.7812h-2.7812zM63.969,44.500h2.7812v2.7812h-2.7812zM86.219,44.500h2.7812v2.7812h-2.7812zM16.688,47.281h2.7812v2.7812h-2.7812zM38.938,47.281h2.7812v2.7812h-2.7812zM61.188,47.281h2.7812v2.7812h-2.7812zM83.438,47.281h2.7812v2.7812h-2.7812zM13.906,50.062h2.7812v2.7812h-2.7812zM36.156,50.062h2.7812v2.7812h-2.7812zM58.406,50.062h2.7812v2.7812h-2.7812zM80.656,50.062h2.7812v2.7812h-2.7812zM11.125,52.844h2.7812v2.7812h-2.7812zM33.375,52.844h2.7812v2.7812h-2.7812zM55.625,52.844h2.7812v2.7812h-2.7812zM77.875,52.844h2.7812v2.7812h-2.7812zM8.344,55.625h2.7812v2.7812h-2.7812zM30.594,55.625h2.7812v2.7812h-2.7812zM52.844,55.625h2.7812v2.7812h-2.7812zM75.094,55.625h2.7812v2.7812h-2.7812zM5.562,58.406h2.7812v2.7812h-2.7812zM27.812,58.406h2.7812v2.7812h-2.7812zM50.062,58.406h2.7812v2.7812h-2.7812zM72.312,58.406h2.7812v2.7812h-2.7812zM2.781,61.188h2.7812v2.7812h-2.7812zM25.031,61.188h2.7812v2.7812h-2.7812zM47.281,61.188h2.7812v2.7812h-2.7812zM69.531,61.188h2.7812v2.7812h-2.7812zM0.000,63.969h2.7812v2.7812h-2.7812zM22.250,63.969h2.7812v2.7812h-2.7812zM44.500,63.969h2.7812v2.7812h-2.7812zM66.750,63.969h2.7812v2.7812h-2.7812zM19.469,66.750h2.7812v2.7812h-2.7812zM41.719,66.750h2.7812v2.7812h-2.7812zM63.969,66.750h2.7812v2.7812h-2.7812zM86.219,66.750h2.7812v2.7812h-2.7812zM16.688,69.531h2.7812v2.7812h-2.7812zM38.938,69.531h2.7812v2.7812h-2.7812zM61.188,69.531h2.7812v2.7812h-2.7812zM83.438,69.531h2.7812v2.7812h-2.7812zM13.906,72.312h2.7812v2.7812h-2.7812zM36.156,72.312h2.7812v2.7812h-2.7812zM58.406,72.312h2.7812v2.7812h-2.7812zM80.656,72.312h2.7812v2.7812h-2.7812zM11.125,75.094h2.7812v2.7812h-2.7812zM33.375,75.094h2.7812v2.7812h-2.7812zM55.625,75.094h2.7812v2.7812h-2.7812zM77.875,75.094h2.7812v2.7812h-2.7812zM8.344,77.875h2.7812v2.7812h-2.7812zM30.594,77.875h2.7812v2.7812h-2.7812zM52.844,77.875h2.7812v2.7812h-2.7812zM75.094,77.875h2.7812v2.7812h-2.7812zM5.562,80.656h2.7812v2.7812h-2.7812zM27.812,80.656h2.7812v2.7812h-2.7812zM50.062,80.656h2.7812v2.7812h-2.7812zM72.312,80.656h2.7812v2.7812h-2.7812zM2.781,83.438h2.7812v2.7812h-2.7812zM25.031,83.438h2.7812v2.7812h-2.7812zM47.281,83.438h2.7812v2.7812h-2.7812zM69.531,83.438h2.7812v2.7812h-2.7812zM0.000,86.219h2.7812v2.7812h-2.7812zM22.250,86.219h2.7812v2.7812h-2.7812zM44.500,86.219h2.7812v2.7812h-2.7812zM66.750,86.219h2.7812v2.7812h-2.7812z" fill="#000"/></pattern>
<pattern id="h40" patternUnits="userSpaceOnUse" x="5.53" y="0" width="89" height="89"><rect width="89" height="89" fill="#ffffff"/><path d="M19.469,0.000h2.7812v2.7812h-2.7812zM41.719,0.000h2.7812v2.7812h-2.7812zM63.969,0.000h2.7812v2.7812h-2.7812zM86.219,0.000h2.7812v2.7812h-2.7812zM16.688,2.781h2.7812v2.7812h-2.7812zM38.938,2.781h2.7812v2.7812h-2.7812zM61.188,2.781h2.7812v2.7812h-2.7812zM83.438,2.781h2.7812v2.7812h-2.7812zM13.906,5.562h2.7812v2.7812h-2.7812zM36.156,5.562h2.7812v2.7812h-2.7812zM58.406,5.562h2.7812v2.7812h-2.7812zM80.656,5.562h2.7812v2.7812h-2.7812zM11.125,8.344h2.7812v2.7812h-2.7812zM33.375,8.344h2.7812v2.7812h-2.7812zM55.625,8.344h2.7812v2.7812h-2.7812zM77.875,8.344h2.7812v2.7812h-2.7812zM8.344,11.125h2.7812v2.7812h-2.7812zM30.594,11.125h2.7812v2.7812h-2.7812zM52.844,11.125h2.7812v2.7812h-2.7812zM75.094,11.125h2.7812v2.7812h-2.7812zM5.562,13.906h2.7812v2.7812h-2.7812zM27.812,13.906h2.7812v2.7812h-2.7812zM50.062,13.906h2.7812v2.7812h-2.7812zM72.312,13.906h2.7812v2.7812h-2.7812zM2.781,16.688h2.7812v2.7812h-2.7812zM25.031,16.688h2.7812v2.7812h-2.7812zM47.281,16.688h2.7812v2.7812h-2.7812zM69.531,16.688h2.7812v2.7812h-2.7812zM0.000,19.469h2.7812v2.7812h-2.7812zM22.250,19.469h2.7812v2.7812h-2.7812zM44.500,19.469h2.7812v2.7812h-2.7812zM66.750,19.469h2.7812v2.7812h-2.7812zM19.469,22.250h2.7812v2.7812h-2.7812zM41.719,22.250h2.7812v2.7812h-2.7812zM63.969,22.250h2.7812v2.7812h-2.7812zM86.219,22.250h2.7812v2.7812h-2.7812zM16.688,25.031h2.7812v2.7812h-2.7812zM38.938,25.031h2.7812v2.7812h-2.7812zM61.188,25.031h2.7812v2.7812h-2.7812zM83.438,25.031h2.7812v2.7812h-2.7812zM13.906,27.812h2.7812v2.7812h-2.7812zM36.156,27.812h2.7812v2.7812h-2.7812zM58.406,27.812h2.7812v2.7812h-2.7812zM80.656,27.812h2.7812v2.7812h-2.7812zM11.125,30.594h2.7812v2.7812h-2.7812zM33.375,30.594h2.7812v2.7812h-2.7812zM55.625,30.594h2.7812v2.7812h-2.7812zM77.875,30.594h2.7812v2.7812h-2.7812zM8.344,33.375h2.7812v2.7812h-2.7812zM30.594,33.375h2.7812v2.7812h-2.7812zM52.844,33.375h2.7812v2.7812h-2.7812zM75.094,33.375h2.7812v2.7812h-2.7812zM5.562,36.156h2.7812v2.7812h-2.7812zM27.812,36.156h2.7812v2.7812h-2.7812zM50.062,36.156h2.7812v2.7812h-2.7812zM72.312,36.156h2.7812v2.7812h-2.7812zM2.781,38.938h2.7812v2.7812h-2.7812zM25.031,38.938h2.7812v2.7812h-2.7812zM47.281,38.938h2.7812v2.7812h-2.7812zM69.531,38.938h2.7812v2.7812h-2.7812zM0.000,41.719h2.7812v2.7812h-2.7812zM22.250,41.719h2.7812v2.7812h-2.7812zM44.500,41.719h2.7812v2.7812h-2.7812zM66.750,41.719h2.7812v2.7812h-2.7812zM19.469,44.500h2.7812v2.7812h-2.7812zM41.719,44.500h2.7812v2.7812h-2.7812zM63.969,44.500h2.7812v2.7812h-2.7812zM86.219,44.500h2.7812v2.7812h-2.7812zM16.688,47.281h2.7812v2.7812h-2.7812zM38.938,47.281h2.7812v2.7812h-2.7812zM61.188,47.281h2.7812v2.7812h-2.7812zM83.438,47.281h2.7812v2.7812h-2.7812zM13.906,50.062h2.7812v2.7812h-2.7812zM36.156,50.062h2.7812v2.7812h-2.7812zM58.406,50.062h2.7812v2.7812h-2.7812zM80.656,50.062h2.7812v2.7812h-2.7812zM11.125,52.844h2.7812v2.7812h-2.7812zM33.375,52.844h2.7812v2.7812h-2.7812zM55.625,52.844h2.7812v2.7812h-2.7812zM77.875,52.844h2.7812v2.7812h-2.7812zM8.344,55.625h2.7812v2.7812h-2.7812zM30.594,55.625h2.7812v2.7812h-2.7812zM52.844,55.625h2.7812v2.7812h-2.7812zM75.094,55.625h2.7812v2.7812h-2.7812zM5.562,58.406h2.7812v2.7812h-2.7812zM27.812,58.406h2.7812v2.7812h-2.7812zM50.062,58.406h2.7812v2.7812h-2.7812zM72.312,58.406h2.7812v2.7812h-2.7812zM2.781,61.188h2.7812v2.7812h-2.7812zM25.031,61.188h2.7812v2.7812h-2.7812zM47.281,61.188h2.7812v2.7812h-2.7812zM69.531,61.188h2.7812v2.7812h-2.7812zM0.000,63.969h2.7812v2.7812h-2.7812zM22.250,63.969h2.7812v2.7812h-2.7812zM44.500,63.969h2.7812v2.7812h-2.7812zM66.750,63.969h2.7812v2.7812h-2.7812zM19.469,66.750h2.7812v2.7812h-2.7812zM41.719,66.750h2.7812v2.7812h-2.7812zM63.969,66.750h2.7812v2.7812h-2.7812zM86.219,66.750h2.7812v2.7812h-2.7812zM16.688,69.531h2.7812v2.7812h-2.7812zM38.938,69.531h2.7812v2.7812h-2.7812zM61.188,69.531h2.7812v2.7812h-2.7812zM83.438,69.531h2.7812v2.7812h-2.7812zM13.906,72.312h2.7812v2.7812h-2.7812zM36.156,72.312h2.7812v2.7812h-2.7812zM58.406,72.312h2.7812v2.7812h-2.7812zM80.656,72.312h2.7812v2.7812h-2.7812zM11.125,75.094h2.7812v2.7812h-2.7812zM33.375,75.094h2.7812v2.7812h-2.7812zM55.625,75.094h2.7812v2.7812h-2.7812zM77.875,75.094h2.7812v2.7812h-2.7812zM8.344,77.875h2.7812v2.7812h-2.7812zM30.594,77.875h2.7812v2.7812h-2.7812zM52.844,77.875h2.7812v2.7812h-2.7812zM75.094,77.875h2.7812v2.7812h-2.7812zM5.562,80.656h2.7812v2.7812h-2.7812zM27.812,80.656h2.7812v2.7812h-2.7812zM50.062,80.656h2.7812v2.7812h-2.7812zM72.312,80.656h2.7812v2.7812h-2.7812zM2.781,83.438h2.7812v2.7812h-2.7812zM25.031,83.438h2.7812v2.7812h-2.7812zM47.281,83.438h2.7812v2.7812h-2.7812zM69.531,83.438h2.7812v2.7812h-2.7812zM0.000,86.219h2.7812v2.7812h-2.7812zM22.250,86.219h2.7812v2.7812h-2.7812zM44.500,86.219h2.7812v2.7812h-2.7812zM66.750,86.219h2.7812v2.7812h-2.7812z" fill="#000"/></pattern>
<pattern id="h41" patternUnits="userSpaceOnUse" x="3.13" y="0" width="89" height="89"><rect width="89" height="89" fill="#ff0000"/><path d="M19.469,0.000h2.7812v2.7812h-2.7812zM41.719,0.000h2.7812v2.7812h-2.7812zM63.969,0.000h2.7812v2.7812h-2.7812zM86.219,0.000h2.7812v2.7812h-2.7812zM16.688,2.781h2.7812v2.7812h-2.7812zM38.938,2.781h2.7812v2.7812h-2.7812zM61.188,2.781h2.7812v2.7812h-2.7812zM83.438,2.781h2.7812v2.7812h-2.7812zM13.906,5.562h2.7812v2.7812h-2.7812zM36.156,5.562h2.7812v2.7812h-2.7812zM58.406,5.562h2.7812v2.7812h-2.7812zM80.656,5.562h2.7812v2.7812h-2.7812zM11.125,8.344h2.7812v2.7812h-2.7812zM33.375,8.344h2.7812v2.7812h-2.7812zM55.625,8.344h2.7812v2.7812h-2.7812zM77.875,8.344h2.7812v2.7812h-2.7812zM8.344,11.125h2.7812v2.7812h-2.7812zM30.594,11.125h2.7812v2.7812h-2.7812zM52.844,11.125h2.7812v2.7812h-2.7812zM75.094,11.125h2.7812v2.7812h-2.7812zM5.562,13.906h2.7812v2.7812h-2.7812zM27.812,13.906h2.7812v2.7812h-2.7812zM50.062,13.906h2.7812v2.7812h-2.7812zM72.312,13.906h2.7812v2.7812h-2.7812zM2.781,16.688h2.7812v2.7812h-2.7812zM25.031,16.688h2.7812v2.7812h-2.7812zM47.281,16.688h2.7812v2.7812h-2.7812zM69.531,16.688h2.7812v2.7812h-2.7812zM0.000,19.469h2.7812v2.7812h-2.7812zM22.250,19.469h2.7812v2.7812h-2.7812zM44.500,19.469h2.7812v2.7812h-2.7812zM66.750,19.469h2.7812v2.7812h-2.7812zM19.469,22.250h2.7812v2.7812h-2.7812zM41.719,22.250h2.7812v2.7812h-2.7812zM63.969,22.250h2.7812v2.7812h-2.7812zM86.219,22.250h2.7812v2.7812h-2.7812zM16.688,25.031h2.7812v2.7812h-2.7812zM38.938,25.031h2.7812v2.7812h-2.7812zM61.188,25.031h2.7812v2.7812h-2.7812zM83.438,25.031h2.7812v2.7812h-2.7812zM13.906,27.812h2.7812v2.7812h-2.7812zM36.156,27.812h2.7812v2.7812h-2.7812zM58.406,27.812h2.7812v2.7812h-2.7812zM80.656,27.812h2.7812v2.7812h-2.7812zM11.125,30.594h2.7812v2.7812h-2.7812zM33.375,30.594h2.7812v2.7812h-2.7812zM55.625,30.594h2.7812v2.7812h-2.7812zM77.875,30.594h2.7812v2.7812h-2.7812zM8.344,33.375h2.7812v2.7812h-2.7812zM30.594,33.375h2.7812v2.7812h-2.7812zM52.844,33.375h2.7812v2.7812h-2.7812zM75.094,33.375h2.7812v2.7812h-2.7812zM5.562,36.156h2.7812v2.7812h-2.7812zM27.812,36.156h2.7812v2.7812h-2.7812zM50.062,36.156h2.7812v2.7812h-2.7812zM72.312,36.156h2.7812v2.7812h-2.7812zM2.781,38.938h2.7812v2.7812h-2.7812zM25.031,38.938h2.7812v2.7812h-2.7812zM47.281,38.938h2.7812v2.7812h-2.7812zM69.531,38.938h2.7812v2.7812h-2.7812zM0.000,41.719h2.7812v2.7812h-2.7812zM22.250,41.719h2.7812v2.7812h-2.7812zM44.500,41.719h2.7812v2.7812h-2.7812zM66.750,41.719h2.7812v2.7812h-2.7812zM19.469,44.500h2.7812v2.7812h-2.7812zM41.719,44.500h2.7812v2.7812h-2.7812zM63.969,44.500h2.7812v2.7812h-2.7812zM86.219,44.500h2.7812v2.7812h-2.7812zM16.688,47.281h2.7812v2.7812h-2.7812zM38.938,47.281h2.7812v2.7812h-2.7812zM61.188,47.281h2.7812v2.7812h-2.7812zM83.438,47.281h2.7812v2.7812h-2.7812zM13.906,50.062h2.7812v2.7812h-2.7812zM36.156,50.062h2.7812v2.7812h-2.7812zM58.406,50.062h2.7812v2.7812h-2.7812zM80.656,50.062h2.7812v2.7812h-2.7812zM11.125,52.844h2.7812v2.7812h-2.7812zM33.375,52.844h2.7812v2.7812h-2.7812zM55.625,52.844h2.7812v2.7812h-2.7812zM77.875,52.844h2.7812v2.7812h-2.7812zM8.344,55.625h2.7812v2.7812h-2.7812zM30.594,55.625h2.7812v2.7812h-2.7812zM52.844,55.625h2.7812v2.7812h-2.7812zM75.094,55.625h2.7812v2.7812h-2.7812zM5.562,58.406h2.7812v2.7812h-2.7812zM27.812,58.406h2.7812v2.7812h-2.7812zM50.062,58.406h2.7812v2.7812h-2.7812zM72.312,58.406h2.7812v2.7812h-2.7812zM2.781,61.188h2.7812v2.7812h-2.7812zM25.031,61.188h2.7812v2.7812h-2.7812zM47.281,61.188h2.7812v2.7812h-2.7812zM69.531,61.188h2.7812v2.7812h-2.7812zM0.000,63.969h2.7812v2.7812h-2.7812zM22.250,63.969h2.7812v2.7812h-2.7812zM44.500,63.969h2.7812v2.7812h-2.7812zM66.750,63.969h2.7812v2.7812h-2.7812zM19.469,66.750h2.7812v2.7812h-2.7812zM41.719,66.750h2.7812v2.7812h-2.7812zM63.969,66.750h2.7812v2.7812h-2.7812zM86.219,66.750h2.7812v2.7812h-2.7812zM16.688,69.531h2.7812v2.7812h-2.7812zM38.938,69.531h2.7812v2.7812h-2.7812zM61.188,69.531h2.7812v2.7812h-2.7812zM83.438,69.531h2.7812v2.7812h-2.7812zM13.906,72.312h2.7812v2.7812h-2.7812zM36.156,72.312h2.7812v2.7812h-2.7812zM58.406,72.312h2.7812v2.7812h-2.7812zM80.656,72.312h2.7812v2.7812h-2.7812zM11.125,75.094h2.7812v2.7812h-2.7812zM33.375,75.094h2.7812v2.7812h-2.7812zM55.625,75.094h2.7812v2.7812h-2.7812zM77.875,75.094h2.7812v2.7812h-2.7812zM8.344,77.875h2.7812v2.7812h-2.7812zM30.594,77.875h2.7812v2.7812h-2.7812zM52.844,77.875h2.7812v2.7812h-2.7812zM75.094,77.875h2.7812v2.7812h-2.7812zM5.562,80.656h2.7812v2.7812h-2.7812zM27.812,80.656h2.7812v2.7812h-2.7812zM50.062,80.656h2.7812v2.7812h-2.7812zM72.312,80.656h2.7812v2.7812h-2.7812zM2.781,83.438h2.7812v2.7812h-2.7812zM25.031,83.438h2.7812v2.7812h-2.7812zM47.281,83.438h2.7812v2.7812h-2.7812zM69.531,83.438h2.7812v2.7812h-2.7812zM0.000,86.219h2.7812v2.7812h-2.7812zM22.250,86.219h2.7812v2.7812h-2.7812zM44.500,86.219h2.7812v2.7812h-2.7812zM66.750,86.219h2.7812v2.7812h-2.7812z" fill="#000"/></pattern>
<pattern id="h42" patternUnits="userSpaceOnUse" x="2.38" y="0" width="89" height="89"><rect width="89" height="89" fill="#0000ff"/><path d="M19.469,0.000h2.7812v2.7812h-2.7812zM41.719,0.000h2.7812v2.7812h-2.7812zM63.969,0.000h2.7812v2.7812h-2.7812zM86.219,0.000h2.7812v2.7812h-2.7812zM16.688,2.781h2.7812v2.7812h-2.7812zM38.938,2.781h2.7812v2.7812h-2.7812zM61.188,2.781h2.7812v2.7812h-2.7812zM83.438,2.781h2.7812v2.7812h-2.7812zM13.906,5.562h2.7812v2.7812h-2.7812zM36.156,5.562h2.7812v2.7812h-2.7812zM58.406,5.562h2.7812v2.7812h-2.7812zM80.656,5.562h2.7812v2.7812h-2.7812zM11.125,8.344h2.7812v2.7812h-2.7812zM33.375,8.344h2.7812v2.7812h-2.7812zM55.625,8.344h2.7812v2.7812h-2.7812zM77.875,8.344h2.7812v2.7812h-2.7812zM8.344,11.125h2.7812v2.7812h-2.7812zM30.594,11.125h2.7812v2.7812h-2.7812zM52.844,11.125h2.7812v2.7812h-2.7812zM75.094,11.125h2.7812v2.7812h-2.7812zM5.562,13.906h2.7812v2.7812h-2.7812zM27.812,13.906h2.7812v2.7812h-2.7812zM50.062,13.906h2.7812v2.7812h-2.7812zM72.312,13.906h2.7812v2.7812h-2.7812zM2.781,16.688h2.7812v2.7812h-2.7812zM25.031,16.688h2.7812v2.7812h-2.7812zM47.281,16.688h2.7812v2.7812h-2.7812zM69.531,16.688h2.7812v2.7812h-2.7812zM0.000,19.469h2.7812v2.7812h-2.7812zM22.250,19.469h2.7812v2.7812h-2.7812zM44.500,19.469h2.7812v2.7812h-2.7812zM66.750,19.469h2.7812v2.7812h-2.7812zM19.469,22.250h2.7812v2.7812h-2.7812zM41.719,22.250h2.7812v2.7812h-2.7812zM63.969,22.250h2.7812v2.7812h-2.7812zM86.219,22.250h2.7812v2.7812h-2.7812zM16.688,25.031h2.7812v2.7812h-2.7812zM38.938,25.031h2.7812v2.7812h-2.7812zM61.188,25.031h2.7812v2.7812h-2.7812zM83.438,25.031h2.7812v2.7812h-2.7812zM13.906,27.812h2.7812v2.7812h-2.7812zM36.156,27.812h2.7812v2.7812h-2.7812zM58.406,27.812h2.7812v2.7812h-2.7812zM80.656,27.812h2.7812v2.7812h-2.7812zM11.125,30.594h2.7812v2.7812h-2.7812zM33.375,30.594h2.7812v2.7812h-2.7812zM55.625,30.594h2.7812v2.7812h-2.7812zM77.875,30.594h2.7812v2.7812h-2.7812zM8.344,33.375h2.7812v2.7812h-2.7812zM30.594,33.375h2.7812v2.7812h-2.7812zM52.844,33.375h2.7812v2.7812h-2.7812zM75.094,33.375h2.7812v2.7812h-2.7812zM5.562,36.156h2.7812v2.7812h-2.7812zM27.812,36.156h2.7812v2.7812h-2.7812zM50.062,36.156h2.7812v2.7812h-2.7812zM72.312,36.156h2.7812v2.7812h-2.7812zM2.781,38.938h2.7812v2.7812h-2.7812zM25.031,38.938h2.7812v2.7812h-2.7812zM47.281,38.938h2.7812v2.7812h-2.7812zM69.531,38.938h2.7812v2.7812h-2.7812zM0.000,41.719h2.7812v2.7812h-2.7812zM22.250,41.719h2.7812v2.7812h-2.7812zM44.500,41.719h2.7812v2.7812h-2.7812zM66.750,41.719h2.7812v2.7812h-2.7812zM19.469,44.500h2.7812v2.7812h-2.7812zM41.719,44.500h2.7812v2.7812h-2.7812zM63.969,44.500h2.7812v2.7812h-2.7812zM86.219,44.500h2.7812v2.7812h-2.7812zM16.688,47.281h2.7812v2.7812h-2.7812zM38.938,47.281h2.7812v2.7812h-2.7812zM61.188,47.281h2.7812v2.7812h-2.7812zM83.438,47.281h2.7812v2.7812h-2.7812zM13.906,50.062h2.7812v2.7812h-2.7812zM36.156,50.062h2.7812v2.7812h-2.7812zM58.406,50.062h2.7812v2.7812h-2.7812zM80.656,50.062h2.7812v2.7812h-2.7812zM11.125,52.844h2.7812v2.7812h-2.7812zM33.375,52.844h2.7812v2.7812h-2.7812zM55.625,52.844h2.7812v2.7812h-2.7812zM77.875,52.844h2.7812v2.7812h-2.7812zM8.344,55.625h2.7812v2.7812h-2.7812zM30.594,55.625h2.7812v2.7812h-2.7812zM52.844,55.625h2.7812v2.7812h-2.7812zM75.094,55.625h2.7812v2.7812h-2.7812zM5.562,58.406h2.7812v2.7812h-2.7812zM27.812,58.406h2.7812v2.7812h-2.7812zM50.062,58.406h2.7812v2.7812h-2.7812zM72.312,58.406h2.7812v2.7812h-2.7812zM2.781,61.188h2.7812v2.7812h-2.7812zM25.031,61.188h2.7812v2.7812h-2.7812zM47.281,61.188h2.7812v2.7812h-2.7812zM69.531,61.188h2.7812v2.7812h-2.7812zM0.000,63.969h2.7812v2.7812h-2.7812zM22.250,63.969h2.7812v2.7812h-2.7812zM44.500,63.969h2.7812v2.7812h-2.7812zM66.750,63.969h2.7812v2.7812h-2.7812zM19.469,66.750h2.7812v2.7812h-2.7812zM41.719,66.750h2.7812v2.7812h-2.7812zM63.969,66.750h2.7812v2.7812h-2.7812zM86.219,66.750h2.7812v2.7812h-2.7812zM16.688,69.531h2.7812v2.7812h-2.7812zM38.938,69.531h2.7812v2.7812h-2.7812zM61.188,69.531h2.7812v2.7812h-2.7812zM83.438,69.531h2.7812v2.7812h-2.7812zM13.906,72.312h2.7812v2.7812h-2.7812zM36.156,72.312h2.7812v2.7812h-2.7812zM58.406,72.312h2.7812v2.7812h-2.7812zM80.656,72.312h2.7812v2.7812h-2.7812zM11.125,75.094h2.7812v2.7812h-2.7812zM33.375,75.094h2.7812v2.7812h-2.7812zM55.625,75.094h2.7812v2.7812h-2.7812zM77.875,75.094h2.7812v2.7812h-2.7812zM8.344,77.875h2.7812v2.7812h-2.7812zM30.594,77.875h2.7812v2.7812h-2.7812zM52.844,77.875h2.7812v2.7812h-2.7812zM75.094,77.875h2.7812v2.7812h-2.7812zM5.562,80.656h2.7812v2.7812h-2.7812zM27.812,80.656h2.7812v2.7812h-2.7812zM50.062,80.656h2.7812v2.7812h-2.7812zM72.312,80.656h2.7812v2.7812h-2.7812zM2.781,83.438h2.7812v2.7812h-2.7812zM25.031,83.438h2.7812v2.7812h-2.7812zM47.281,83.438h2.7812v2.7812h-2.7812zM69.531,83.438h2.7812v2.7812h-2.7812zM0.000,86.219h2.7812v2.7812h-2.7812zM22.250,86.219h2.7812v2.7812h-2.7812zM44.500,86.219h2.7812v2.7812h-2.7812zM66.750,86.219h2.7812v2.7812h-2.7812z" fill="#000"/></pattern>
</defs>
<rect width="1855" height="1503" fill="#fff"/>
<rect x="343.90" y="436.05" width="37.90" height="834.95" fill="url(#h00)" stroke="#000" stroke-width="2.3"/>
<rect x="381.80" y="281.15" width="39.80" height="989.85" fill="url(#h01)" stroke="#000" stroke-width="2.3"/>
<rect x="421.60" y="148.65" width="40.00" height="1122.35" fill="url(#h02)" stroke="#000" stroke-width="2.3"/>
<rect x="461.60" y="186.95" width="40.50" height="1084.05" fill="#ffffff" stroke="#000" stroke-width="2.3"/>
<rect x="502.10" y="316.25" width="37.70" height="954.75" fill="#ff0000" stroke="#000" stroke-width="2.3"/>
<rect x="539.80" y="413.95" width="40.20" height="857.05" fill="#0000ff" stroke="#000" stroke-width="2.3"/>
<rect x="640.30" y="471.05" width="40.20" height="799.95" fill="url(#h10)" stroke="#000" stroke-width="2.3"/>
<rect x="680.50" y="316.05" width="36.90" height="954.95" fill="url(#h11)" stroke="#000" stroke-width="2.3"/>
<rect x="717.40" y="186.35" width="40.50" height="1084.65" fill="url(#h12)" stroke="#000" stroke-width="2.3"/>
<rect x="757.90" y="233.05" width="40.30" height="1037.95" fill="#ffffff" stroke="#000" stroke-width="2.3"/>
<rect x="798.20" y="342.35" width="40.30" height="928.65" fill="#ff0000" stroke="#000" stroke-width="2.3"/>
<rect x="838.50" y="425.35" width="37.30" height="845.65" fill="#0000ff" stroke="#000" stroke-width="2.3"/>
<rect x="936.40" y="496.65" width="40.20" height="774.35" fill="url(#h20)" stroke="#000" stroke-width="2.3"/>
<rect x="976.60" y="353.45" width="37.40" height="917.55" fill="url(#h21)" stroke="#000" stroke-width="2.3"/>
<rect x="1016.70" y="220.75" width="37.30" height="1050.25" fill="url(#h22)" stroke="#000" stroke-width="2.3"/>
<rect x="1054.00" y="293.45" width="40.60" height="977.55" fill="#ffffff" stroke="#000" stroke-width="2.3"/>
<rect x="1094.60" y="388.45" width="40.10" height="882.55" fill="#ff0000" stroke="#000" stroke-width="2.3"/>
<rect x="1134.70" y="448.25" width="37.50" height="822.75" fill="#0000ff" stroke="#000" stroke-width="2.3"/>
<rect x="1232.80" y="508.25" width="40.40" height="762.75" fill="url(#h30)" stroke="#000" stroke-width="2.3"/>
<rect x="1273.20" y="376.05" width="39.80" height="894.95" fill="url(#h31)" stroke="#000" stroke-width="2.3"/>
<rect x="1313.00" y="243.75" width="37.30" height="1027.25" fill="url(#h32)" stroke="#000" stroke-width="2.3"/>
<rect x="1350.30" y="304.25" width="40.40" height="966.75" fill="#ffffff" stroke="#000" stroke-width="2.3"/>
<rect x="1390.70" y="425.75" width="40.30" height="845.25" fill="#ff0000" stroke="#000" stroke-width="2.3"/>
<rect x="1431.00" y="459.85" width="40.40" height="811.15" fill="#0000ff" stroke="#000" stroke-width="2.3"/>
<rect x="1528.80" y="543.25" width="40.60" height="727.75" fill="url(#h40)" stroke="#000" stroke-width="2.3"/>
<rect x="1569.40" y="413.75" width="40.10" height="857.25" fill="url(#h41)" stroke="#000" stroke-width="2.3"/>
<rect x="1609.50" y="304.25" width="37.10" height="966.75" fill="url(#h42)" stroke="#000" stroke-width="2.3"/>
<rect x="1646.60" y="353.55" width="40.20" height="917.45" fill="#ffffff" stroke="#000" stroke-width="2.3"/>
<rect x="1686.80" y="448.35" width="40.50" height="822.65" fill="#ff0000" stroke="#000" stroke-width="2.3"/>
<rect x="1727.30" y="520.35" width="40.30" height="750.65" fill="#0000ff" stroke="#000" stroke-width="2.3"/>
<path d="M362.85,530.90V341.50M351.25,530.90H374.45M351.25,341.50H374.45" stroke="#000" stroke-width="3.05" fill="none"/>
<path d="M401.70,352.80V209.00M390.10,352.80H413.30M390.10,209.00H413.30" stroke="#000" stroke-width="3.05" fill="none"/>
<path d="M441.60,197.80V102.80M430.00,197.80H453.20M430.00,102.80H453.20" stroke="#000" stroke-width="3.05" fill="none"/>
<path d="M481.85,243.60V125.90M470.25,243.60H493.45M470.25,125.90H493.45" stroke="#000" stroke-width="3.05" fill="none"/>
<path d="M520.95,375.60V258.00M509.35,375.60H532.55M509.35,258.00H532.55" stroke="#000" stroke-width="3.05" fill="none"/>
<path d="M559.90,485.10V341.50M548.30,485.10H571.50M548.30,341.50H571.50" stroke="#000" stroke-width="3.05" fill="none"/>
<path d="M660.40,556.40V387.40M648.80,556.40H672.00M648.80,387.40H672.00" stroke="#000" stroke-width="3.05" fill="none"/>
<path d="M698.95,401.20V232.20M687.35,401.20H710.55M687.35,232.20H710.55" stroke="#000" stroke-width="3.05" fill="none"/>
<path d="M737.65,281.00V88.30M726.05,281.00H749.25M726.05,88.30H749.25" stroke="#000" stroke-width="3.05" fill="none"/>
<path d="M778.05,304.00V160.40M766.45,304.00H789.65M766.45,160.40H789.65" stroke="#000" stroke-width="3.05" fill="none"/>
<path d="M818.35,375.80V303.80M806.75,375.80H829.95M806.75,303.80H829.95" stroke="#000" stroke-width="3.05" fill="none"/>
<path d="M857.15,470.90V375.80M845.55,470.90H868.75M845.55,375.80H868.75" stroke="#000" stroke-width="3.05" fill="none"/>
<path d="M956.50,556.40V436.20M944.90,556.40H968.10M944.90,436.20H968.10" stroke="#000" stroke-width="3.05" fill="none"/>
<path d="M996.00,401.60V303.80M984.40,401.60H1007.60M984.40,303.80H1007.60" stroke="#000" stroke-width="3.05" fill="none"/>
<path d="M1034.70,292.60V148.70M1023.10,292.60H1046.30M1023.10,148.70H1046.30" stroke="#000" stroke-width="3.05" fill="none"/>
<path d="M1074.30,387.20V197.50M1062.70,387.20H1085.90M1062.70,197.50H1085.90" stroke="#000" stroke-width="3.05" fill="none"/>
<path d="M1114.65,459.20V315.40M1103.05,459.20H1126.25M1103.05,315.40H1126.25" stroke="#000" stroke-width="3.05" fill="none"/>
<path d="M1153.45,519.20V375.60M1141.85,519.20H1165.05M1141.85,375.60H1165.05" stroke="#000" stroke-width="3.05" fill="none"/>
<path d="M1253.00,579.80V436.20M1241.40,579.80H1264.60M1241.40,436.20H1264.60" stroke="#000" stroke-width="3.05" fill="none"/>
<path d="M1293.10,470.30V281.00M1281.50,470.30H1304.70M1281.50,281.00H1304.70" stroke="#000" stroke-width="3.05" fill="none"/>
<path d="M1331.65,329.40V160.40M1320.05,329.40H1343.25M1320.05,160.40H1343.25" stroke="#000" stroke-width="3.05" fill="none"/>
<path d="M1370.50,387.40V220.40M1358.90,387.40H1382.10M1358.90,220.40H1382.10" stroke="#000" stroke-width="3.05" fill="none"/>
<path d="M1410.85,508.00V341.20M1399.25,508.00H1422.45M1399.25,341.20H1422.45" stroke="#000" stroke-width="3.05" fill="none"/>
<path d="M1451.20,542.30V375.60M1439.60,542.30H1462.80M1439.60,375.60H1462.80" stroke="#000" stroke-width="3.05" fill="none"/>
<path d="M1549.10,591.40V496.20M1537.50,591.40H1560.70M1537.50,496.20H1560.70" stroke="#000" stroke-width="3.05" fill="none"/>
<path d="M1589.45,495.70V329.60M1577.85,495.70H1601.05M1577.85,329.60H1601.05" stroke="#000" stroke-width="3.05" fill="none"/>
<path d="M1628.05,375.80V232.30M1616.45,375.80H1639.65M1616.45,232.30H1639.65" stroke="#000" stroke-width="3.05" fill="none"/>
<path d="M1666.70,436.30V269.40M1655.10,436.30H1678.30M1655.10,269.40H1678.30" stroke="#000" stroke-width="3.05" fill="none"/>
<path d="M1707.05,507.80V387.40M1695.45,507.80H1718.65M1695.45,387.40H1718.65" stroke="#000" stroke-width="3.05" fill="none"/>
<path d="M1747.45,568.00V470.60M1735.85,568.00H1759.05M1735.85,470.60H1759.05" stroke="#000" stroke-width="3.05" fill="none"/>
<rect x="311" y="76" width="1484" height="1195" fill="none" stroke="#000" stroke-width="5.8"/>
<path d="M288,1271H311" stroke="#000" stroke-width="5.7"/>
<path d="M288,1032.5H311" stroke="#000" stroke-width="5.7"/>
<path d="M288,794H311" stroke="#000" stroke-width="5.7"/>
<path d="M288,555.3H311" stroke="#000" stroke-width="5.7"/>
<path d="M288,314H311" stroke="#000" stroke-width="5.7"/>
<path d="M288,76H311" stroke="#000" stroke-width="5.7"/>
<path d="M299.3,1151.50H311" stroke="#000" stroke-width="5.7"/>
<path d="M299.3,912.50H311" stroke="#000" stroke-width="5.7"/>
<path d="M299.3,673.50H311" stroke="#000" stroke-width="5.7"/>
<path d="M299.3,434.50H311" stroke="#000" stroke-width="5.7"/>
<path d="M299.3,195.50H311" stroke="#000" stroke-width="5.7"/>
<path d="M460.3,1271V1293.8" stroke="#000" stroke-width="5.4"/>
<path d="M756.6,1271V1293.8" stroke="#000" stroke-width="5.4"/>
<path d="M1052.9,1271V1293.8" stroke="#000" stroke-width="5.4"/>
<path d="M1348.9,1271V1293.8" stroke="#000" stroke-width="5.4"/>
<path d="M1645.3,1271V1293.8" stroke="#000" stroke-width="5.4"/>
<text transform="translate(281.1,338.5) scale(1,1.04)" font-size="70" text-anchor="end">80</text>
<text transform="translate(280.2,579.5) scale(1,1.04)" font-size="70" text-anchor="end">60</text>
<text transform="translate(280.2,821.5) scale(1,1.04)" font-size="70" text-anchor="end">40</text>
<text transform="translate(280.2,1059.5) scale(1,1.04)" font-size="70" text-anchor="end">20</text>
<text transform="translate(282,1298) scale(1,1.04)" font-size="70" text-anchor="end">0</text>
<text transform="translate(284.4,100) scale(1,1.04)" font-size="70" text-anchor="end">100</text>
<text transform="translate(465,1370) scale(1,1.04)" font-size="70" text-anchor="middle">1</text>
<text transform="translate(751.3,1370) scale(1,1.04)" font-size="70" text-anchor="middle">2</text>
<text transform="translate(1059.2,1370) scale(1,1.04)" font-size="70" text-anchor="middle">3</text>
<text transform="translate(1345.2,1370) scale(1,1.04)" font-size="70" text-anchor="middle">4</text>
<text transform="translate(1654,1370) scale(1,1.04)" font-size="70" text-anchor="middle">5</text>
<text transform="translate(1049,1453.5) scale(1,1.04)" font-size="70" text-anchor="middle">Cycles (time of usage)</text>
<text transform="translate(129.8,677.5) rotate(-90) scale(1,1.04)" font-size="69.2" text-anchor="middle">Capture and Release efficiency (%)</text>
<rect x="1385.25" y="89.25" width="26.5" height="27.3" fill="#fff" stroke="#000" stroke-width="4.5"/>
<rect x="1383" y="141" width="31" height="32" fill="#ff0000"/>
<rect x="1383" y="198" width="31" height="32" fill="#0070c0"/>
<text transform="translate(1426.4,118.8) scale(1,1.04)" font-size="45.6">PMEMA-CDMA-1</text>
<text transform="translate(1426.4,172.9) scale(1,1.04)" font-size="45.6">PMEMA-CDMA-2</text>
<text transform="translate(1426.4,225.7) scale(1,1.04)" font-size="45.6">PMEMA-CDMA-4</text>
</svg></body></html>
